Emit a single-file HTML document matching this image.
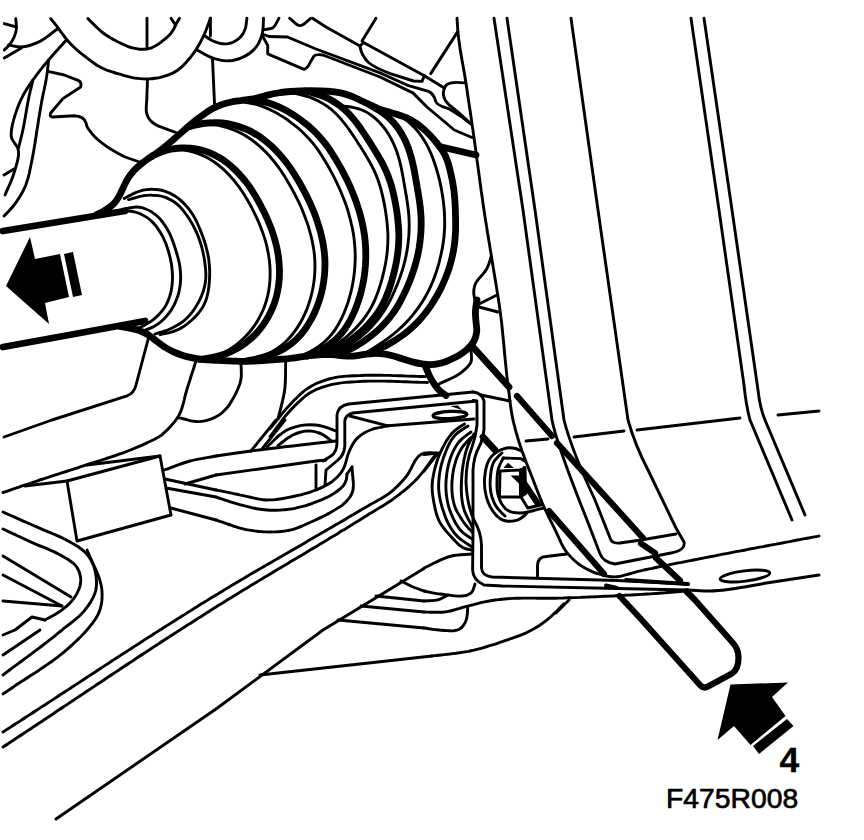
<!DOCTYPE html>
<html><head><meta charset="utf-8"><title>F475R008</title>
<style>
html,body{margin:0;padding:0;background:#fff;}
body{width:864px;height:840px;overflow:hidden;font-family:"Liberation Sans",sans-serif;}
svg{display:block;}
text{font-family:"Liberation Sans",sans-serif;fill:#000;}
</style></head><body>
<svg width="864" height="840" viewBox="0 0 864 840">
<rect width="864" height="840" fill="#fff"/>
<g fill="none" stroke="#000" stroke-linecap="round" stroke-linejoin="round">
<g stroke-width="2.9">
<path d="M4.3,23.6 L14.3,26.4"/>
<path d="M15.7,18.6 C15.9,21.9 16.7,25.4 16.4,28.6 C15.8,34.7 12.6,41.0 8.6,45.7 C7.3,47.2 5.7,48.6 4.3,50.0"/>
<path d="M8.6,45.0 C12.9,45.7 17.2,47.1 21.4,47.0 C27.7,46.9 34.2,44.2 40.0,41.4 C46.2,38.4 51.3,33.3 57.0,29.3"/>
<path d="M4.3,57.9 L21.4,47.9"/>
<path d="M50.7,18.6 C52.0,20.2 53.2,21.8 54.5,23.3 C55.7,24.9 57.0,26.5 58.2,28.1 C59.4,29.7 60.6,31.4 61.8,33.0 C63.0,34.6 64.1,36.3 65.4,37.8 C66.6,39.4 67.9,41.0 69.3,42.5 C70.6,43.9 72.1,45.4 73.5,46.7 C75.0,48.1 76.5,49.5 78.0,50.8 C79.6,52.1 81.1,53.4 82.7,54.6 C84.3,55.9 85.9,57.1 87.5,58.3 C89.1,59.6 90.7,60.8 92.3,62.0 C94.0,63.1 95.6,64.3 97.3,65.4 C99.0,66.4 100.8,67.4 102.6,68.3 C104.4,69.2 106.3,69.9 108.2,70.7 C110.0,71.4 112.0,71.9 113.9,72.5 C115.8,73.1 117.8,73.7 119.7,74.2 C121.6,74.8 123.6,75.3 125.5,75.9 C127.5,76.4 129.4,76.9 131.4,77.3 C133.4,77.8 135.3,78.2 137.3,78.4 C139.3,78.7 141.3,78.8 143.4,78.9 C145.4,79.0 147.4,79.0 149.4,78.9 C151.4,78.8 153.4,78.6 155.4,78.3 C157.4,78.0 159.4,77.6 161.3,77.1 C163.3,76.6 165.2,76.1 167.1,75.4 C169.0,74.7 170.9,74.0 172.7,73.1 C174.5,72.2 176.2,71.1 177.9,70.0 C179.5,68.8 181.0,67.5 182.5,66.1 C184.0,64.8 185.3,63.3 186.7,61.8 C188.0,60.3 189.3,58.7 190.6,57.2 C191.8,55.6 193.1,54.0 194.2,52.3 C195.4,50.7 196.5,49.0 197.5,47.2 C198.6,45.5 199.5,43.8 200.5,42.0 C201.4,40.2 202.4,38.4 203.2,36.6 C204.1,34.8 204.9,32.9 205.7,31.1 C206.4,29.2 207.1,27.3 207.8,25.4 C208.5,23.5 209.2,21.6 209.9,19.7 C210.1,19.2 210.2,18.8 210.4,18.3"/>
<path d="M87.9,18.6 C89.3,20.0 90.8,21.5 92.2,22.9 C93.7,24.4 95.1,25.8 96.6,27.2 C98.1,28.6 99.6,30.0 101.1,31.3 C102.7,32.6 104.3,33.8 106.0,35.0 C107.7,36.1 109.4,37.2 111.2,38.2 C113.0,39.3 114.8,40.2 116.6,41.2 C118.4,42.1 120.2,43.0 122.1,43.9 C123.9,44.7 125.8,45.6 127.7,46.4 C129.5,47.1 131.5,47.8 133.5,48.2 C135.4,48.7 137.5,49.0 139.5,49.2 C141.5,49.3 143.6,49.4 145.6,49.1 C147.6,48.9 149.6,48.5 151.5,47.8 C153.4,47.1 155.1,46.0 156.9,45.0 C158.6,43.9 160.2,42.7 161.9,41.5 C163.5,40.2 165.1,39.0 166.6,37.6 C168.1,36.3 169.7,34.9 170.9,33.3 C172.2,31.8 173.2,30.0 174.2,28.2 C174.9,26.8 175.4,25.4 176.0,24.0"/>
<path d="M171.0,18.3 L175.5,25.0 L179.5,18.3"/>
<path d="M147.0,18.3 L147.0,49.0"/>
<path d="M147.5,80.0 C147.4,82.1 147.3,84.2 147.3,86.3 C147.2,88.3 147.1,90.4 147.0,92.5 C146.9,94.6 146.9,96.7 146.8,98.8 C146.7,100.9 146.5,102.9 146.4,105.0 C146.3,107.1 146.0,109.2 146.3,111.2 C146.6,113.2 147.2,115.3 148.1,117.1 C149.0,118.9 150.4,120.6 151.8,121.9 C153.3,123.3 155.2,124.4 157.0,125.4 C158.8,126.3 160.8,126.9 162.8,127.7 C164.7,128.4 166.7,129.1 168.6,129.9 C170.6,130.6 172.6,131.3 174.5,132.0 C175.0,132.2 175.5,132.3 176.0,132.5"/>
<path d="M66.4,40.0 C65.0,41.5 63.7,43.0 62.3,44.5 C61.0,46.0 59.6,47.5 58.3,49.0 C56.9,50.5 55.6,52.0 54.2,53.5 C52.9,55.0 51.6,56.5 50.3,58.1 C48.9,59.6 47.6,61.1 46.4,62.7 C45.1,64.3 43.8,65.8 42.5,67.4 C41.2,68.9 40.0,70.5 38.7,72.1 C37.5,73.7 36.3,75.3 35.1,77.0 C33.9,78.6 32.7,80.2 31.6,81.9 C30.5,83.6 29.3,85.2 28.2,86.9 C27.1,88.6 26.0,90.3 25.0,92.1 C24.0,93.8 23.0,95.6 22.1,97.4 C21.2,99.1 20.3,101.0 19.5,102.8 C18.7,104.7 18.0,106.6 17.3,108.5 C16.6,110.4 16.0,112.3 15.3,114.2 C14.7,116.1 14.1,118.1 13.6,120.0 C13.1,121.9 12.6,123.9 12.2,125.9 C11.8,127.9 11.4,129.9 11.3,131.9 C11.2,133.8 11.0,135.9 11.5,137.7 C12.0,139.6 13.3,141.2 14.4,142.8 C15.4,144.5 16.9,146.0 17.6,147.7 C18.3,149.5 18.6,151.6 18.6,153.5 C18.7,155.5 18.2,157.5 17.8,159.5 C17.5,161.5 16.8,163.4 16.3,165.3 C15.8,167.3 15.2,169.2 14.6,171.2 C14.0,173.1 13.4,175.0 12.7,176.9 C12.0,178.8 11.2,180.7 10.5,182.5 C9.7,184.4 8.8,186.2 8.0,188.1 C7.2,189.9 6.4,191.7 5.6,193.6 C5.4,194.1 5.2,194.5 5.0,195.0"/>
<path d="M48.6,60.0 C48.4,62.0 48.2,64.0 48.0,66.0 C47.7,68.0 47.5,70.1 47.3,72.1 C47.0,74.1 46.7,76.1 46.4,78.1 C46.1,80.1 45.7,82.1 45.3,84.0 C44.9,86.0 44.5,88.0 44.1,90.0 C43.6,92.0 43.2,93.9 42.8,95.9 C42.4,97.9 42.0,99.9 41.6,101.9 C41.3,103.9 40.9,105.9 40.6,107.9 C40.2,109.9 39.9,111.8 39.6,113.8 C39.3,115.8 38.9,117.8 38.6,119.8 C38.3,121.8 38.0,123.8 37.7,125.8 C37.4,127.8 37.0,129.8 36.7,131.8 C36.4,133.8 36.1,135.8 35.8,137.8 C35.5,139.8 35.2,141.8 34.9,143.8 C34.5,145.8 34.2,147.8 33.9,149.8 C33.6,151.8 33.2,153.8 32.8,155.8 C32.5,157.8 32.0,159.8 31.6,161.8 C31.2,163.7 30.8,165.7 30.4,167.7 C30.0,169.7 29.6,171.7 29.2,173.6 C28.7,175.6 28.2,177.6 27.6,179.5 C27.0,181.4 26.4,183.4 25.7,185.2 C24.9,187.1 24.1,189.0 23.2,190.8 C22.2,192.6 21.3,194.3 20.2,196.1 C19.2,197.8 18.1,199.5 16.9,201.2 C15.8,202.8 14.6,204.5 13.3,206.0 C12.0,207.6 10.7,209.1 9.3,210.6 C8.0,212.1 6.5,213.5 5.1,214.9 C4.7,215.3 4.4,215.6 4.0,216.0"/>
<path d="M32.9,80.0 C31.5,86.2 29.9,92.4 28.6,98.6 C26.4,109.0 25.2,119.6 22.9,130.0 C21.6,136.0 20.0,142.0 18.5,148.0"/>
<path d="M4.0,175.0 L14.0,169.0"/>
<path d="M47.9,71.4 L64.3,75 L78,80.4 Q82,82 80.7,87 L62.9,98.6 L50.7,113 Q49,117 53,117 L74.3,115.7 Q84,116 86,123 Q87,128 89.3,130 C95,139 105,147 125,157 L141,162.5"/>
<path d="M210.4,18.3 L210.4,36.0"/>
<path d="M205.0,36.0 C206.7,37.2 208.4,38.5 210.2,39.5 C212.0,40.6 213.9,41.5 215.9,42.2 C217.8,42.9 219.9,43.5 222.0,43.7 C224.0,43.9 226.1,43.9 228.2,43.6 C230.2,43.2 232.3,42.6 234.1,41.7 C236.0,40.8 237.7,39.6 239.3,38.2 C240.8,36.8 242.1,35.1 243.2,33.4 C244.2,31.6 245.0,29.6 245.6,27.6 C246.1,25.6 246.3,23.5 246.5,21.4 C246.7,20.4 246.8,19.3 246.9,18.3"/>
<path d="M198.0,50.6 C199.8,51.6 201.6,52.6 203.4,53.6 C205.2,54.5 206.9,55.5 208.8,56.4 C210.7,57.2 212.6,57.9 214.5,58.6 C216.4,59.2 218.4,59.7 220.4,60.1 C222.4,60.5 224.4,60.8 226.5,60.9 C228.5,60.9 230.5,60.8 232.5,60.5 C234.5,60.1 236.5,59.6 238.4,59.0 C240.4,58.4 242.3,57.6 244.1,56.6 C245.9,55.7 247.6,54.7 249.3,53.5 C250.9,52.3 252.5,51.0 253.9,49.6 C255.3,48.1 256.6,46.5 257.7,44.8 C258.8,43.1 259.7,41.2 260.4,39.3 C261.2,37.4 261.8,35.5 262.2,33.5 C262.7,31.5 262.9,29.5 263.1,27.5 C263.3,25.4 263.3,23.4 263.4,21.4 C263.4,20.3 263.5,19.3 263.5,18.3"/>
<path d="M212.5,59.0 L214.6,106.0"/>
<path d="M263.5,29.8 C266.7,29.1 270.5,29.3 273.0,27.7 C275.9,25.8 277.0,21.4 279.0,18.3"/>
<path d="M289.6,18.3 C293.1,20.7 296.5,25.5 300.0,25.6 C303.6,25.7 307.3,20.7 311.0,18.3"/>
<path d="M312.5,18.3 L326.0,27.0 L360.0,46.0"/>
<path d="M376.0,18.3 L362.0,41.0"/>
<path d="M360,46 L363.5,42.5 L424.3,75.7 L422,81.4 L413.5,81 L391,73.8 Q375,68 368.5,62.5 Q361,55 360,46 Z"/>
<path d="M424.3,75.7 L444.3,87.9"/>
<path d="M262.5,34 L268.8,36.5 L287.5,37 L316,49 L380,72.9 L408.6,85.7 L428.6,91.4 Q434,94 435.7,101.4 Q437,105.5 448.6,108.6 L460,115.7 L471.4,124.3"/>
<path d="M262.5,36 L267.7,45.4 L267.7,53.8 L304,69.4 Q308,68 310.4,62 L314,56 Q316,54 323,55 L380,77 L412.9,92.9 L427,107 L454.3,130 L472,137.5"/>
<path d="M457.9,31.4 L430.7,73.6"/>
<path d="M444.3,87.9 C445.2,86.8 445.9,85.3 447.0,84.5 C448.2,83.6 449.9,83.3 451.4,82.9 C456.0,81.7 460.9,82.9 465.7,82.9"/>
<path d="M444.3,87.9 C444.0,89.9 443.2,92.0 443.3,94.0 C443.5,96.0 444.1,98.0 445.0,99.8 C445.9,101.6 447.5,103.1 448.9,104.6 C450.4,106.1 452.2,107.2 453.8,108.6 C455.4,109.9 457.0,111.2 458.6,112.6 C460.2,114.0 461.8,115.4 463.3,116.8 C464.9,118.2 466.4,119.7 467.9,121.1 C469.1,122.2 470.2,123.2 471.4,124.3"/>
<path d="M457.0,18.3 C457.1,20.3 457.3,22.3 457.4,24.3 C457.5,26.3 457.7,28.3 457.8,30.3 C458.0,32.3 458.2,34.3 458.4,36.3 C458.6,38.3 458.9,40.3 459.2,42.2 C459.4,44.2 459.7,46.2 460.0,48.2 C460.3,50.2 460.7,52.1 461.0,54.1 C461.3,56.1 461.7,58.1 462.0,60.0 C462.4,62.0 462.7,64.0 463.1,66.0 C463.4,67.9 463.8,69.9 464.1,71.9 C464.5,73.9 464.8,75.8 465.1,77.8 C465.4,79.8 465.7,81.8 466.1,83.7 C466.4,85.7 466.7,87.7 467.0,89.7 C467.3,91.7 467.5,93.7 467.8,95.6 C468.1,97.6 468.4,99.6 468.7,101.6 C469.0,103.6 469.3,105.5 469.6,107.5 C469.9,109.5 470.2,111.5 470.5,113.5 C470.8,115.5 471.1,117.4 471.4,119.4 C471.7,121.4 471.9,123.4 472.2,125.4 C472.5,127.4 472.8,129.3 473.1,131.3 C473.4,133.3 473.7,135.3 473.9,137.3 C474.2,139.3 474.5,141.2 474.8,143.2 C475.0,145.2 475.3,147.2 475.6,149.2 C475.9,151.2 476.1,153.2 476.4,155.1 C476.7,157.1 476.9,159.1 477.2,161.1 C477.5,163.1 477.7,165.1 478.0,167.1 C478.3,169.0 478.5,171.0 478.8,173.0 C479.1,175.0 479.3,177.0 479.6,179.0 C479.9,181.0 480.1,182.9 480.4,184.9 C480.7,186.9 480.9,188.9 481.2,190.9 C481.5,192.9 481.8,194.9 482.1,196.8 C482.4,198.8 482.6,200.8 482.9,202.8 C483.2,204.8 483.5,206.8 483.8,208.7 C484.1,210.7 484.4,212.7 484.7,214.7 C485.0,216.7 485.3,218.6 485.6,220.6 C486.0,222.6 486.3,224.6 486.6,226.6 C486.9,228.5 487.2,230.5 487.5,232.5 C487.9,234.5 488.2,236.4 488.5,238.4 C488.8,240.4 489.1,242.4 489.5,244.4 C489.8,246.3 490.1,248.3 490.4,250.3 C490.8,252.3 491.1,254.2 491.4,256.2 C491.7,258.2 492.0,260.2 492.4,262.2 C492.7,264.1 493.0,266.1 493.3,268.1 C493.6,270.1 494.0,272.0 494.3,274.0 C494.6,276.0 495.0,278.0 495.3,280.0 C495.6,281.9 496.0,283.9 496.3,285.9 C496.6,287.9 496.9,289.8 497.2,291.8 C497.6,293.8 497.9,295.8 498.2,297.8 C498.5,299.7 498.8,301.7 499.1,303.7 C499.4,305.7 499.7,307.7 499.9,309.6 C500.2,311.6 500.5,313.6 500.7,315.6 C501.0,317.6 501.2,319.6 501.5,321.6 C501.7,323.6 501.9,325.6 502.1,327.5 C502.3,329.5 502.5,331.5 502.7,333.5 C502.9,335.5 503.1,337.5 503.3,339.5 C503.5,341.5 503.7,343.5 503.9,345.5 C504.1,347.5 504.3,349.5 504.4,351.5 C504.6,353.5 504.8,355.5 505.0,357.5 C505.2,359.5 505.4,361.5 505.6,363.5 C505.8,365.4 506.0,367.4 506.2,369.4 C506.4,371.4 506.6,373.4 506.8,375.4 C507.1,377.4 507.3,379.4 507.5,381.4 C507.8,383.4 508.0,385.4 508.3,387.3 C508.5,389.3 508.8,391.3 509.0,393.3 C509.3,395.3 509.5,397.3 509.7,399.3 C510.0,401.3 510.2,403.3 510.5,405.2 C510.8,407.2 511.0,409.2 511.4,411.2 C511.7,413.2 512.0,415.1 512.4,417.1 C512.8,419.1 513.2,421.0 513.7,423.0 C514.2,424.9 514.7,426.9 515.2,428.8 C515.7,430.7 516.2,432.7 516.8,434.6 C517.3,436.5 517.9,438.4 518.5,440.4 C519.1,442.3 519.7,444.2 520.3,446.1 C521.0,448.0 521.6,449.9 522.3,451.8 C523.0,453.7 523.7,455.5 524.4,457.4 C525.1,459.3 525.8,461.2 526.5,463.0 C527.2,464.9 528.0,466.8 528.7,468.6 C529.4,470.5 530.2,472.3 530.9,474.2 C531.6,476.1 532.4,477.9 533.1,479.8 C533.8,481.7 534.5,483.6 535.2,485.4 C536.0,487.3 536.7,489.2 537.4,491.0 C538.1,492.9 538.9,494.8 539.6,496.6 C540.4,498.5 541.1,500.3 541.9,502.2 C542.7,504.0 543.5,505.9 544.3,507.7 C545.2,509.5 546.0,511.3 546.9,513.1 C547.7,514.9 548.6,516.7 549.5,518.5 C550.4,520.3 551.3,522.1 552.2,523.9 C553.1,525.7 554.0,527.5 554.9,529.3 C555.8,531.1 556.6,532.9 557.4,534.7 C558.3,536.6 559.0,538.4 559.9,540.2 C560.7,542.0 561.5,543.9 562.5,545.6 C563.4,547.4 564.5,549.1 565.6,550.7 C566.8,552.4 568.1,553.9 569.4,555.4 C570.7,556.9 572.1,558.3 573.6,559.7 C575.1,561.0 576.6,562.4 578.2,563.6 C579.8,564.8 581.4,565.9 583.1,567.0 C584.8,568.0 586.6,569.0 588.4,569.9 C590.2,570.8 592.0,571.6 593.9,572.3 C595.7,573.0 597.6,573.7 599.6,574.2 C601.5,574.8 603.4,575.3 605.4,575.8 C607.3,576.2 609.3,576.5 611.3,576.7 C613.3,576.9 615.3,576.9 617.3,576.7 C619.2,576.5 621.2,576.1 623.2,575.6 C625.1,575.2 627.0,574.5 628.9,574.0 C630.8,573.4 632.8,572.8 634.7,572.3 C636.6,571.8 638.6,571.3 640.5,570.9 C642.5,570.4 644.4,570.0 646.4,569.5 C648.4,569.1 650.3,568.7 652.3,568.3 C654.2,567.8 656.2,567.4 658.2,567.0 C660.1,566.6 662.1,566.2 664.0,565.8 C666.0,565.4 668.0,565.0 669.9,564.6 C671.9,564.2 673.9,563.8 675.8,563.4 C677.8,563.0 679.8,562.7 681.7,562.3 C683.7,561.9 685.7,561.5 687.6,561.1 C689.6,560.7 691.6,560.4 693.5,560.0 C695.5,559.6 697.5,559.2 699.4,558.8 C701.4,558.5 703.4,558.1 705.3,557.7 C707.3,557.3 709.3,556.9 711.2,556.5 C713.2,556.2 715.2,555.8 717.1,555.4 C719.1,555.0 721.1,554.6 723.0,554.2 C725.0,553.8 727.0,553.4 728.9,553.1 C730.9,552.7 732.9,552.3 734.8,551.9 C736.8,551.5 738.8,551.2 740.7,550.8 C742.7,550.4 744.7,550.0 746.6,549.7 C748.6,549.3 750.6,548.9 752.5,548.5 C754.5,548.2 756.5,547.8 758.4,547.4 C760.4,547.0 762.4,546.7 764.4,546.3 C766.3,545.9 768.3,545.6 770.3,545.2 C772.2,544.8 774.2,544.4 776.2,544.1 C778.1,543.7 780.1,543.3 782.1,543.0 C784.0,542.6 786.0,542.2 788.0,541.9 C790.0,541.5 791.9,541.1 793.9,540.7 C795.9,540.4 797.8,540.0 799.8,539.6 C801.8,539.3 803.7,538.9 805.7,538.5 C807.7,538.1 809.6,537.8 811.6,537.4 C813.6,537.0 815.6,536.7 817.5,536.3 C818.0,536.2 818.5,536.1 819.0,536.0"/>
<path d="M494,18.3 L523,210 L552,420 C555,436 565,465 587,520 L600,553.7 Q603,562 615,564 L671,553 Q686,550 684,542 L676,528 L648,470 Q635,445 628,420 L598,210 L571,18.3"/>
<path d="M507,18.3 L535,210 L564,420 C568,436 580,468 595,500 L609.7,537 Q611,544 620,543 L641,540 L676,534"/>
<path d="M691,18.3 L719,210 L744,385 Q746,405 750,420 L792,520"/>
<path d="M704,18.3 L732,210 L758,390 Q760,408 765,420 L805,515"/>
<path d="M778.0,415.0 L819.0,411.0"/>
<path d="M526.0,441.0 L548.0,439.0"/>
<path d="M574.0,437.0 L624.0,431.0"/>
<path d="M637.0,430.0 L740.0,418.0"/>
<path d="M688.0,590.0 C695.3,590.3 702.7,591.0 710.0,591.0 C731.1,590.9 752.0,585.1 773.0,582.0 C788.3,579.7 803.7,577.3 819.0,575.0"/>
<path d="M400.0,115.0 C402.6,117.1 405.3,119.1 407.8,121.3 C410.4,123.5 412.8,125.8 415.1,128.3 C417.4,130.7 419.5,133.4 421.4,136.1 C423.3,138.8 425.1,141.7 426.7,144.6 C428.3,147.6 429.7,150.7 431.0,153.7 C432.3,156.8 433.5,160.0 434.6,163.2 C435.7,166.3 436.7,169.6 437.6,172.8 C438.5,176.1 439.4,179.3 440.1,182.6 C440.8,185.9 441.5,189.2 442.0,192.5 C442.6,195.9 443.1,199.2 443.5,202.5 C443.9,205.9 444.2,209.2 444.4,212.6 C444.6,216.0 444.7,219.3 444.7,222.7 C444.7,226.1 444.6,229.4 444.3,232.8 C444.1,236.1 443.7,239.5 443.2,242.8 C442.7,246.2 442.1,249.5 441.4,252.8 C440.7,256.1 439.9,259.3 439.1,262.6 C438.2,265.8 437.2,269.1 436.2,272.3 C435.1,275.5 433.9,278.6 432.7,281.7 C431.4,284.9 430.0,287.9 428.5,290.9 C427.0,293.9 425.3,296.9 423.6,299.8 C421.9,302.6 420.0,305.5 418.0,308.2 C416.1,310.9 414.0,313.6 411.8,316.1 C409.7,318.7 407.4,321.2 405.0,323.6 C402.7,326.0 400.2,328.3 397.7,330.5 C395.2,332.7 392.5,334.9 389.9,336.9 C387.2,339.0 384.4,340.9 381.7,342.8 C378.9,344.7 376.0,346.5 373.2,348.3 C371.4,349.4 369.7,350.4 368.0,351.5"/>
<path d="M111.4,211.4 C113.4,211.3 115.4,211.2 117.4,211.1 C119.5,211.0 121.5,210.8 123.5,210.8 C125.5,210.8 127.5,210.8 129.5,211.0 C131.5,211.2 133.5,211.6 135.4,212.2 C137.4,212.7 139.3,213.4 141.1,214.2 C142.9,215.1 144.7,216.0 146.4,217.1 C148.1,218.2 149.7,219.4 151.2,220.8 C152.7,222.1 154.0,223.7 155.3,225.2 C156.5,226.8 157.7,228.4 158.8,230.1 C160.0,231.8 161.0,233.5 162.0,235.3 C163.0,237.0 163.8,238.9 164.6,240.7 C165.5,242.5 166.2,244.4 166.8,246.3 C167.5,248.2 168.1,250.2 168.7,252.1 C169.2,254.0 169.7,256.0 170.2,258.0 C170.6,259.9 171.0,261.9 171.4,263.9 C171.7,265.9 172.0,267.9 172.1,269.9 C172.3,271.9 172.4,273.9 172.5,275.9 C172.5,278.0 172.5,280.0 172.3,282.0 C172.2,284.0 172.0,286.0 171.7,288.0 C171.4,290.0 171.0,292.0 170.4,293.9 C169.9,295.9 169.3,297.8 168.5,299.7 C167.8,301.5 166.9,303.4 166.0,305.1 C165.0,306.9 163.9,308.6 162.7,310.2 C161.5,311.8 160.1,313.3 158.7,314.7 C157.3,316.2 155.8,317.5 154.2,318.8 C152.7,320.1 151.0,321.2 149.3,322.4 C147.7,323.5 146.0,324.6 144.2,325.5 C142.4,326.4 140.6,327.3 138.7,327.9 C136.8,328.5 134.7,328.8 132.8,328.9 C130.8,328.9 128.8,328.5 126.8,328.1 C124.8,327.8 122.9,327.2 120.9,326.7 C120.0,326.5 119.0,326.2 118.0,326.0"/>
<path d="M122.0,209.3 C124.0,208.9 126.0,208.5 127.9,208.2 C129.9,207.8 131.9,207.3 133.9,207.2 C135.9,207.0 137.9,207.0 139.9,207.3 C141.9,207.6 143.8,208.2 145.7,209.0 C147.5,209.7 149.3,210.6 151.1,211.6 C152.8,212.7 154.5,213.8 156.0,215.1 C157.5,216.4 158.9,217.8 160.3,219.3 C161.6,220.8 162.8,222.5 164.0,224.1 C165.2,225.8 166.3,227.5 167.3,229.2 C168.3,230.9 169.2,232.7 170.1,234.5 C170.9,236.4 171.7,238.3 172.4,240.1 C173.1,242.0 173.7,243.9 174.4,245.9 C175.0,247.8 175.6,249.7 176.2,251.6 C176.8,253.6 177.4,255.5 177.9,257.4 C178.4,259.4 178.9,261.4 179.3,263.3 C179.7,265.3 180.0,267.3 180.2,269.3 C180.4,271.3 180.6,273.3 180.6,275.3 C180.7,277.4 180.6,279.4 180.5,281.4 C180.4,283.4 180.2,285.4 179.8,287.4 C179.5,289.4 179.1,291.4 178.6,293.3 C178.1,295.3 177.4,297.2 176.7,299.1 C176.0,300.9 175.2,302.8 174.3,304.6 C173.4,306.4 172.4,308.2 171.3,309.9 C170.3,311.5 169.0,313.2 167.8,314.7 C166.5,316.3 165.1,317.8 163.7,319.2 C162.2,320.6 160.7,321.9 159.1,323.1 C157.5,324.3 155.8,325.4 154.0,326.4 C152.3,327.4 150.4,328.1 148.5,328.9 C146.7,329.7 144.7,330.3 142.8,331.0 C141.9,331.3 140.9,331.7 140.0,332.0"/>
<path d="M128.6,199.6 C130.5,199.1 132.5,198.5 134.4,198.0 C136.4,197.4 138.3,196.8 140.3,196.4 C142.3,196.0 144.3,195.6 146.3,195.4 C148.3,195.2 150.3,195.1 152.3,195.2 C154.4,195.2 156.4,195.3 158.4,195.6 C160.4,195.9 162.4,196.3 164.3,197.0 C166.2,197.6 168.0,198.4 169.8,199.4 C171.6,200.3 173.4,201.3 175.0,202.5 C176.6,203.7 178.1,205.0 179.6,206.5 C181.0,207.9 182.3,209.4 183.6,211.0 C184.8,212.6 186.0,214.2 187.2,215.9 C188.3,217.5 189.5,219.2 190.5,221.0 C191.6,222.7 192.6,224.4 193.5,226.2 C194.5,228.0 195.3,229.8 196.2,231.7 C197.0,233.5 197.8,235.4 198.5,237.3 C199.2,239.2 199.9,241.1 200.5,243.0 C201.1,244.9 201.7,246.9 202.2,248.8 C202.7,250.8 203.2,252.8 203.5,254.8 C203.9,256.7 204.3,258.7 204.6,260.7 C204.9,262.7 205.1,264.8 205.3,266.8 C205.6,268.8 205.7,270.8 205.8,272.8 C205.9,274.8 205.9,276.9 205.7,278.9 C205.6,280.9 205.3,282.9 204.9,284.9 C204.5,286.9 204.0,288.8 203.4,290.7 C202.8,292.7 202.0,294.6 201.3,296.4 C200.5,298.3 199.6,300.1 198.7,301.9 C197.7,303.7 196.7,305.5 195.6,307.2 C194.5,308.9 193.4,310.5 192.2,312.1 C190.9,313.7 189.6,315.3 188.2,316.8 C186.8,318.2 185.4,319.6 183.8,320.9 C182.2,322.1 180.5,323.3 178.8,324.3 C177.1,325.4 175.3,326.4 173.5,327.3 C171.7,328.2 169.9,329.0 168.0,329.8 C166.1,330.5 164.2,331.1 162.3,331.8 C160.3,332.4 158.4,332.9 156.4,333.5 C156.0,333.7 155.5,333.8 155.0,334.0"/>
<path d="M124.3,198.6 C126.1,197.6 127.8,196.6 129.6,195.6 C131.4,194.7 133.1,193.6 135.0,192.8 C136.8,192.0 138.7,191.3 140.7,190.8 C142.6,190.2 144.6,189.9 146.6,189.6 C148.6,189.4 150.6,189.2 152.7,189.3 C154.7,189.3 156.7,189.4 158.7,189.8 C160.7,190.1 162.7,190.6 164.6,191.2 C166.5,191.8 168.4,192.6 170.2,193.4 C172.0,194.3 173.8,195.3 175.5,196.4 C177.2,197.5 178.8,198.7 180.3,200.0 C181.9,201.3 183.3,202.7 184.7,204.2 C186.1,205.7 187.4,207.2 188.7,208.8 C189.9,210.4 191.1,212.0 192.2,213.7 C193.3,215.4 194.3,217.2 195.3,219.0 C196.2,220.8 197.1,222.6 197.9,224.5 C198.7,226.3 199.5,228.2 200.3,230.0 C201.0,231.9 201.8,233.8 202.5,235.7 C203.2,237.6 203.8,239.5 204.5,241.4 C205.1,243.4 205.7,245.3 206.2,247.3 C206.7,249.2 207.2,251.2 207.6,253.2 C208.0,255.1 208.4,257.1 208.7,259.1 C208.9,261.2 209.2,263.2 209.3,265.2 C209.5,267.2 209.6,269.2 209.7,271.2 C209.7,273.3 209.7,275.3 209.6,277.3 C209.5,279.3 209.4,281.4 209.2,283.4 C209.0,285.4 208.8,287.4 208.5,289.4 C208.2,291.4 207.8,293.4 207.3,295.4 C206.9,297.3 206.3,299.3 205.6,301.2 C204.8,303.0 204.0,304.9 203.0,306.6 C202.0,308.4 200.8,310.1 199.6,311.7 C198.4,313.3 197.1,314.8 195.7,316.3 C194.3,317.8 192.8,319.2 191.3,320.5 C189.8,321.9 188.2,323.1 186.6,324.3 C185.0,325.5 183.3,326.7 181.5,327.7 C179.8,328.7 178.0,329.6 176.1,330.4 C174.3,331.2 172.3,331.8 170.4,332.3 C168.5,332.9 166.4,333.2 164.5,333.6 C163.0,333.9 161.5,334.2 160.0,334.5"/>
<path d="M491.0,257.0 C490.4,259.0 489.9,261.1 489.2,263.1 C488.5,265.0 487.8,267.0 486.8,268.8 C485.8,270.7 484.4,272.3 483.1,273.9 C481.8,275.5 480.2,277.0 478.9,278.6 C477.6,280.3 476.3,281.9 475.4,283.8 C474.6,285.7 474.1,287.8 473.9,289.8 C473.6,291.8 473.7,294.0 474.1,296.0 C474.4,298.1 475.1,300.1 475.8,302.1 C476.2,303.1 476.6,304.0 477.0,305.0"/>
<path d="M477.0,305.0 L497.0,295.0"/>
<path d="M479.0,307.0 L498.0,312.0"/>
<path d="M471.0,350.0 C471.0,354.0 472.3,358.5 471.0,362.0 C469.6,365.9 465.3,369.1 462.0,372.0 C455.6,377.6 446.7,380.0 439.0,384.0"/>
<path d="M149,336 L136,385 Q134,393.5 127,395.8 L52,420 L4,437"/>
<path d="M241.0,364.0 C241.1,366.0 241.2,368.1 241.3,370.1 C241.3,372.2 241.4,374.2 241.3,376.3 C241.1,378.3 240.8,380.3 240.3,382.3 C239.8,384.2 239.0,386.1 238.3,388.0 C237.5,389.9 236.6,391.8 235.7,393.6 C234.8,395.4 233.8,397.3 232.8,399.0 C231.8,400.8 230.8,402.6 229.6,404.3 C228.5,405.9 227.3,407.6 225.9,409.1 C224.5,410.6 223.0,412.0 221.4,413.3 C219.8,414.5 218.1,415.6 216.3,416.6 C214.5,417.5 212.6,418.4 210.7,419.1 C208.8,419.8 206.8,420.4 204.8,420.8 C202.9,421.2 200.8,421.5 198.8,421.6 C196.8,421.6 194.7,421.4 192.7,421.1 C190.7,420.8 188.7,420.2 186.7,419.7 C184.7,419.3 182.8,418.7 180.8,418.2 C179.8,418.0 178.8,417.7 177.8,417.5"/>
<path d="M285.7,362.0 C285.4,371.0 285.9,380.1 284.8,389.0 C283.6,399.1 280.3,409.0 278.0,419.0"/>
<path d="M270.0,428.7 C271.3,427.1 272.5,425.6 273.8,424.0 C275.1,422.4 276.3,420.8 277.6,419.3 C278.8,417.7 280.1,416.1 281.4,414.5 C282.7,413.0 283.9,411.4 285.3,409.9 C286.6,408.4 288.0,406.9 289.3,405.4 C290.7,403.9 292.1,402.5 293.5,401.0 C294.9,399.6 296.3,398.1 297.8,396.7 C299.2,395.3 300.7,393.9 302.2,392.6 C303.7,391.3 305.3,390.0 307.0,388.9 C308.6,387.7 310.3,386.7 312.1,385.7 C313.9,384.7 315.7,383.8 317.5,383.0 C319.4,382.2 321.3,381.5 323.2,380.8 C325.1,380.2 327.0,379.6 328.9,379.0 C330.9,378.5 332.8,378.0 334.8,377.6 C336.8,377.2 338.8,376.9 340.8,376.6 C342.8,376.4 344.8,376.3 346.8,376.1 C348.8,376.0 350.9,375.9 352.9,375.8 C354.9,375.8 356.9,375.7 358.9,375.6 C360.9,375.5 363.0,375.4 365.0,375.3 C367.0,375.3 369.0,375.2 371.0,375.2 C373.0,375.2 375.1,375.2 377.1,375.2 C379.1,375.2 381.1,375.2 383.1,375.3 C385.1,375.3 387.2,375.4 389.2,375.4 C391.2,375.5 393.2,375.6 395.2,375.6 C397.3,375.7 399.3,375.8 401.3,375.8 C403.3,375.9 405.3,376.0 407.3,376.1 C409.4,376.1 411.4,376.2 413.4,376.3 C415.4,376.4 417.4,376.4 419.4,376.5 C421.5,376.5 423.5,376.6 425.5,376.6"/>
<path d="M270.0,436.6 C271.2,435.0 272.4,433.4 273.7,431.8 C274.9,430.1 276.0,428.5 277.2,426.9 C278.4,425.2 279.6,423.6 280.8,422.0 C282.0,420.3 283.2,418.7 284.5,417.1 C285.8,415.6 287.1,414.0 288.4,412.5 C289.7,411.0 291.1,409.5 292.5,408.1 C294.0,406.6 295.4,405.2 296.8,403.8 C298.3,402.4 299.7,401.0 301.3,399.6 C302.8,398.3 304.3,397.0 305.9,395.7 C307.5,394.5 309.2,393.3 310.9,392.3 C312.6,391.3 314.4,390.3 316.3,389.5 C318.1,388.7 320.0,388.0 321.9,387.3 C323.8,386.7 325.8,386.1 327.7,385.6 C329.7,385.1 331.7,384.6 333.6,384.2 C335.6,383.8 337.6,383.4 339.6,383.1 C341.6,382.8 343.6,382.6 345.6,382.4 C347.6,382.2 349.7,382.1 351.7,382.0 C353.7,381.8 355.7,381.7 357.7,381.6 C359.8,381.5 361.8,381.4 363.8,381.3 C365.8,381.3 367.8,381.2 369.9,381.1 C371.9,381.1 373.9,381.1 375.9,381.1 C378.0,381.1 380.0,381.1 382.0,381.1 C384.0,381.1 386.1,381.2 388.1,381.2 C390.1,381.3 392.1,381.3 394.1,381.4 C396.2,381.5 398.2,381.5 400.2,381.6 C402.2,381.7 404.2,381.8 406.3,381.8 C408.3,381.9 410.3,382.0 412.3,382.1 C414.4,382.1 416.4,382.2 418.4,382.3 C420.4,382.3 422.4,382.4 424.5,382.4 C425.5,382.5 426.5,382.5 427.5,382.5"/>
<path d="M267.0,447.0 C268.5,445.6 270.0,444.2 271.5,442.7 C273.0,441.3 274.4,439.8 275.9,438.4 C277.4,436.9 278.9,435.5 280.6,434.3 C282.2,433.0 283.9,431.8 285.7,430.8 C287.5,429.8 289.4,429.0 291.4,428.2 C293.3,427.5 295.3,426.8 297.3,426.3 C299.3,425.8 301.3,425.4 303.3,425.1 C305.4,424.8 307.5,424.7 309.5,424.7 C311.6,424.7 313.7,424.8 315.7,425.0 C317.8,425.3 319.8,425.6 321.8,426.1 C323.8,426.6 325.8,427.3 327.7,427.9 C329.7,428.6 331.6,429.4 333.5,430.1 C334.0,430.3 334.5,430.5 335.0,430.7"/>
<path d="M278.0,445.5 C279.7,444.2 281.3,442.9 283.0,441.7 C284.7,440.4 286.3,439.1 288.0,437.9 C289.8,436.8 291.6,435.7 293.4,434.8 C295.3,433.9 297.3,433.1 299.3,432.5 C301.3,431.9 303.3,431.4 305.4,431.1 C307.4,430.9 309.5,430.9 311.6,431.1 C313.6,431.3 315.7,431.8 317.7,432.5 C319.6,433.1 321.6,434.0 323.4,435.0 C325.2,436.0 326.9,437.3 328.5,438.6 C329.4,439.2 330.2,439.9 331.0,440.5"/>
<path d="M216.0,456.0 C227.7,454.3 239.3,452.6 251.0,451.0 C279.3,447.2 307.7,444.3 336.0,441.0"/>
<path d="M216.0,475.0 L316.0,461.0 L326.0,460.0"/>
<path d="M251.0,451.0 L276.0,420.0"/>
<path d="M262.0,449.0 L285.0,420.0"/>
<path d="M473,392 L348.7,404 Q338,406 337,415 L337,442.5 Q337,452 331,456 L323,461"/>
<path d="M477,401 L352.7,413 Q345.5,415 344.8,421 L344.8,446.5 Q344,455 338,460 L326,470 L325,485"/>
<path d="M349.7,416.0 L388.0,425.8"/>
<path d="M388.0,425.8 C386.0,426.2 384.1,426.6 382.1,427.0 C380.1,427.4 378.1,427.7 376.2,428.2 C374.2,428.7 372.3,429.3 370.4,430.0 C368.5,430.7 366.7,431.6 364.9,432.6 C363.2,433.6 361.5,434.6 359.9,435.9 C358.4,437.1 356.9,438.5 355.6,440.0 C354.3,441.6 353.3,443.3 352.3,445.0 C351.3,446.8 350.4,448.6 349.6,450.5 C348.8,452.3 348.1,454.2 347.5,456.1 C346.9,458.0 346.5,460.0 345.9,461.9 C345.3,463.9 344.8,465.8 344.0,467.6 C343.1,469.4 342.1,471.2 340.9,472.8 C339.7,474.4 338.4,475.9 337.0,477.3 C335.5,478.7 334.0,480.1 332.4,481.3 C330.8,482.5 329.1,483.6 327.4,484.6 C325.7,485.6 323.8,486.5 322.0,487.4 C320.2,488.2 318.3,489.0 316.5,489.8 C314.6,490.5 312.7,491.3 310.8,491.9 C308.9,492.6 307.0,493.2 305.0,493.7 C303.1,494.3 301.2,494.7 299.2,495.2 C297.2,495.7 295.3,496.1 293.3,496.5 C291.3,496.9 289.3,497.3 287.4,497.7 C285.4,498.1 283.4,498.4 281.4,498.8 C279.4,499.1 277.4,499.4 275.4,499.6 C273.4,499.8 271.4,499.9 269.4,499.9 C267.4,500.0 265.4,499.9 263.4,499.7 C261.4,499.5 259.4,499.2 257.4,498.8 C255.4,498.5 253.5,498.0 251.5,497.5 C249.5,497.0 247.6,496.5 245.6,496.1 C243.7,495.6 241.7,495.2 239.7,494.8 C237.7,494.3 235.8,494.0 233.8,493.6 C231.8,493.2 229.8,492.8 227.9,492.4 C225.9,492.0 223.9,491.6 221.9,491.2 C220.0,490.8 218.0,490.4 216.0,490.0"/>
<path d="M316.0,465.0 L316.0,489.0"/>
<path d="M347.0,474.0 C346.7,476.0 346.8,478.1 346.2,480.0 C345.6,481.8 344.7,483.7 343.6,485.3 C342.4,486.9 340.8,488.2 339.3,489.5 C337.7,490.8 336.1,492.0 334.4,493.1 C332.7,494.2 331.0,495.3 329.2,496.2 C327.4,497.2 325.5,498.0 323.7,498.9 C321.8,499.7 319.9,500.4 318.1,501.2 C316.2,501.9 314.3,502.7 312.4,503.3 C310.4,504.0 308.5,504.7 306.6,505.3 C304.6,505.9 302.7,506.4 300.7,506.9 C298.8,507.4 296.8,507.9 294.8,508.3 C292.8,508.7 290.8,509.0 288.8,509.3 C286.8,509.5 284.8,509.8 282.7,509.9 C280.7,510.1 278.7,510.2 276.6,510.2 C274.6,510.3 272.6,510.3 270.6,510.2 C268.5,510.1 266.5,510.0 264.5,509.8 C262.5,509.6 260.5,509.3 258.5,509.0 C256.5,508.7 254.5,508.2 252.5,507.8 C250.5,507.4 248.5,506.9 246.6,506.4 C244.6,505.9 242.6,505.4 240.7,504.9 C238.7,504.4 236.7,503.8 234.8,503.2 C232.9,502.6 230.9,502.0 229.0,501.4 C227.1,500.7 225.1,500.1 223.2,499.4 C221.3,498.8 219.4,498.1 217.4,497.5 C217.0,497.3 216.5,497.2 216.0,497.0"/>
<path d="M352.0,467.0 C352.1,469.0 352.2,471.0 352.4,473.1 C352.6,475.1 352.9,477.1 353.0,479.1 C353.2,481.1 353.5,483.1 353.4,485.1 C353.4,487.1 353.3,489.2 352.7,491.1 C352.2,493.0 351.3,494.9 350.3,496.6 C349.3,498.3 347.9,499.8 346.5,501.3 C345.1,502.7 343.6,504.0 342.0,505.3 C340.4,506.5 338.6,507.5 336.9,508.6 C335.2,509.7 333.5,510.7 331.7,511.7 C330.0,512.8 328.2,513.7 326.4,514.7 C324.6,515.6 322.8,516.5 321.0,517.4 C319.1,518.3 317.3,519.1 315.5,520.0 C313.6,520.8 311.8,521.7 309.9,522.5 C308.1,523.3 306.2,524.2 304.4,525.0 C302.5,525.8 300.7,526.7 298.8,527.4 C296.9,528.1 295.0,528.8 293.1,529.4 C291.1,529.9 289.1,530.3 287.2,530.7 C285.2,531.1 283.2,531.3 281.1,531.5 C279.1,531.7 277.1,531.8 275.1,531.9 C273.1,532.0 271.0,532.0 269.0,532.0 C267.0,531.9 265.0,531.9 262.9,531.8 C260.9,531.6 258.9,531.5 256.9,531.2 C254.9,531.0 252.9,530.8 250.9,530.4 C248.9,530.1 246.9,529.8 244.9,529.3 C242.9,528.9 241.0,528.4 239.0,527.8 C237.1,527.2 235.1,526.6 233.2,526.0 C231.3,525.3 229.4,524.6 227.5,524.0 C225.6,523.3 223.7,522.6 221.8,521.9 C219.8,521.3 217.9,520.6 216.0,520.0"/>
<path d="M347.0,474.0 L352.0,467.0"/>
<path d="M436.0,453.0 C434.0,452.9 432.0,452.7 430.0,452.7 C428.0,452.7 425.9,452.6 424.1,453.1 C422.3,453.6 420.4,454.6 419.0,455.8 C417.5,457.0 416.4,458.8 415.3,460.4 C414.2,462.1 413.4,464.0 412.5,465.7 C411.5,467.5 410.7,469.4 409.7,471.1 C408.7,472.8 407.7,474.6 406.5,476.2 C405.3,477.8 404.0,479.3 402.6,480.8 C401.3,482.2 399.9,483.7 398.5,485.1 C397.1,486.5 395.6,487.9 394.1,489.3 C392.6,490.6 391.1,491.9 389.5,493.1 C387.9,494.3 386.2,495.4 384.5,496.5 C382.9,497.6 381.1,498.6 379.4,499.6 C377.6,500.6 375.8,501.5 374.1,502.5 C372.3,503.4 370.6,504.4 368.8,505.4 C367.1,506.4 365.4,507.4 363.6,508.4 C361.9,509.4 360.2,510.5 358.4,511.5 C356.7,512.5 355.0,513.5 353.3,514.6 C351.5,515.6 349.8,516.6 348.1,517.6 C346.4,518.6 344.6,519.7 342.9,520.7 C341.2,521.7 339.4,522.7 337.7,523.7 C336.0,524.7 334.2,525.7 332.5,526.8 C330.8,527.8 329.0,528.8 327.3,529.8 C325.6,530.8 323.8,531.8 322.1,532.8 C320.4,533.8 318.6,534.8 316.9,535.8 C315.1,536.8 313.4,537.8 311.7,538.8 C309.9,539.8 308.2,540.8 306.5,541.9 C304.7,542.9 303.0,543.9 301.3,544.9 C299.5,545.9 297.8,546.9 296.0,547.9 C294.3,548.9 292.6,549.9 290.8,550.9 C289.1,551.9 287.4,552.9 285.6,553.9 C283.9,554.9 282.1,555.9 280.4,556.9 C278.7,557.9 276.9,558.9 275.2,559.9 C273.5,561.0 271.7,562.0 270.0,563.0 C268.3,564.0 266.5,565.0 264.8,566.0 C263.1,567.0 261.3,568.0 259.6,569.0 C257.9,570.0 256.1,571.1 254.4,572.1 C252.7,573.1 250.9,574.1 249.2,575.1 C247.5,576.1 245.8,577.2 244.0,578.2 C242.3,579.2 240.6,580.2 238.8,581.3 C237.1,582.3 235.4,583.3 233.7,584.3 C232.0,585.4 230.2,586.4 228.5,587.4 C226.8,588.5 225.1,589.5 223.4,590.5 C221.6,591.6 219.9,592.6 218.2,593.7 C216.5,594.7 214.8,595.7 213.1,596.8 C211.4,597.8 209.6,598.9 207.9,599.9 C206.2,601.0 204.5,602.0 202.8,603.1 C201.1,604.1 199.4,605.2 197.7,606.3 C196.0,607.3 194.3,608.4 192.6,609.4 C190.9,610.5 189.2,611.6 187.5,612.6 C185.8,613.7 184.1,614.8 182.4,615.8 C180.7,616.9 179.0,618.0 177.3,619.0 C175.6,620.1 173.9,621.2 172.2,622.2 C170.5,623.3 168.8,624.4 167.1,625.5 C165.4,626.5 163.7,627.6 162.0,628.7 C160.3,629.8 158.6,630.8 156.9,631.9 C155.2,633.0 153.6,634.1 151.9,635.2 C150.2,636.3 148.5,637.3 146.8,638.4 C145.1,639.5 143.4,640.6 141.7,641.7 C140.1,642.8 138.4,643.9 136.7,644.9 C135.0,646.0 133.3,647.1 131.6,648.2 C129.9,649.3 128.3,650.4 126.6,651.5 C124.9,652.6 123.2,653.7 121.5,654.8 C119.8,655.9 118.2,656.9 116.5,658.0 C114.8,659.1 113.1,660.2 111.4,661.3 C109.7,662.4 108.1,663.5 106.4,664.6 C104.7,665.7 103.0,666.8 101.3,667.9 C99.7,669.0 98.0,670.1 96.3,671.2 C94.6,672.3 92.9,673.4 91.3,674.5 C89.6,675.6 87.9,676.7 86.2,677.8 C84.5,678.9 82.9,680.0 81.2,681.1 C79.5,682.2 77.8,683.3 76.2,684.4 C74.5,685.5 72.8,686.6 71.1,687.7 C69.4,688.8 67.8,689.9 66.1,691.0 C64.4,692.1 62.7,693.2 61.0,694.3 C59.4,695.4 57.7,696.5 56.0,697.6 C54.3,698.7 52.6,699.8 51.0,700.9 C49.3,702.0 47.6,703.1 45.9,704.2 C44.2,705.2 42.6,706.3 40.9,707.4 C39.2,708.5 37.5,709.6 35.8,710.7 C34.2,711.8 32.5,712.9 30.8,714.0 C29.1,715.1 27.4,716.2 25.7,717.3 C24.1,718.4 22.4,719.5 20.7,720.6 C19.0,721.7 17.3,722.8 15.6,723.8 C14.0,724.9 12.3,726.0 10.6,727.1 C8.9,728.2 7.2,729.3 5.5,730.4 C4.7,730.9 3.8,731.5 3.0,732.0"/>
<path d="M436.0,454.0 C434.8,455.6 433.6,457.2 432.4,458.9 C431.2,460.5 430.1,462.1 428.9,463.8 C427.7,465.4 426.6,467.0 425.4,468.6 C424.2,470.3 423.0,471.9 421.7,473.4 C420.4,475.0 419.1,476.5 417.8,478.0 C416.4,479.5 415.0,480.9 413.6,482.3 C412.1,483.7 410.6,485.1 409.1,486.4 C407.6,487.8 406.1,489.1 404.5,490.3 C403.0,491.6 401.4,492.8 399.8,494.1 C398.2,495.3 396.6,496.5 395.0,497.7 C393.4,498.9 391.7,500.1 390.1,501.2 C388.4,502.3 386.7,503.4 385.0,504.5 C383.3,505.5 381.6,506.6 379.8,507.6 C378.1,508.7 376.4,509.7 374.7,510.7 C373.0,511.8 371.2,512.8 369.5,513.8 C367.8,514.9 366.1,516.0 364.4,517.0 C362.7,518.1 361.0,519.2 359.3,520.2 C357.6,521.3 355.8,522.3 354.1,523.4 C352.4,524.5 350.7,525.5 349.0,526.6 C347.3,527.6 345.6,528.7 343.9,529.7 C342.1,530.8 340.4,531.8 338.7,532.9 C337.0,533.9 335.3,535.0 333.6,536.0 C331.8,537.1 330.1,538.1 328.4,539.1 C326.7,540.2 324.9,541.2 323.2,542.3 C321.5,543.3 319.8,544.3 318.1,545.4 C316.3,546.4 314.6,547.4 312.9,548.5 C311.2,549.5 309.4,550.5 307.7,551.6 C306.0,552.6 304.2,553.6 302.5,554.7 C300.8,555.7 299.1,556.7 297.3,557.8 C295.6,558.8 293.9,559.8 292.2,560.8 C290.4,561.9 288.7,562.9 287.0,563.9 C285.2,565.0 283.5,566.0 281.8,567.0 C280.1,568.1 278.3,569.1 276.6,570.1 C274.9,571.1 273.2,572.2 271.4,573.2 C269.7,574.2 268.0,575.3 266.3,576.3 C264.5,577.3 262.8,578.4 261.1,579.4 C259.4,580.5 257.6,581.5 255.9,582.5 C254.2,583.6 252.5,584.6 250.7,585.6 C249.0,586.7 247.3,587.7 245.6,588.8 C243.9,589.8 242.1,590.9 240.4,591.9 C238.7,593.0 237.0,594.0 235.3,595.1 C233.6,596.1 231.8,597.2 230.1,598.2 C228.4,599.3 226.7,600.3 225.0,601.4 C223.3,602.4 221.6,603.5 219.9,604.6 C218.2,605.6 216.5,606.7 214.8,607.8 C213.1,608.8 211.4,609.9 209.7,611.0 C208.0,612.1 206.3,613.1 204.6,614.2 C202.9,615.3 201.2,616.4 199.5,617.4 C197.8,618.5 196.1,619.6 194.4,620.7 C192.7,621.8 191.0,622.9 189.3,623.9 C187.6,625.0 185.9,626.1 184.2,627.2 C182.5,628.3 180.8,629.4 179.1,630.5 C177.4,631.6 175.8,632.6 174.1,633.7 C172.4,634.8 170.7,635.9 169.0,637.0 C167.3,638.1 165.6,639.2 163.9,640.3 C162.3,641.4 160.6,642.5 158.9,643.6 C157.2,644.7 155.5,645.8 153.8,646.9 C152.2,648.0 150.5,649.1 148.8,650.2 C147.1,651.3 145.4,652.4 143.7,653.5 C142.1,654.6 140.4,655.7 138.7,656.8 C137.0,657.9 135.3,659.1 133.7,660.2 C132.0,661.3 130.3,662.4 128.6,663.5 C127.0,664.6 125.3,665.7 123.6,666.8 C121.9,667.9 120.2,669.0 118.6,670.2 C116.9,671.3 115.2,672.4 113.5,673.5 C111.9,674.6 110.2,675.7 108.5,676.8 C106.8,677.9 105.2,679.1 103.5,680.2 C101.8,681.3 100.1,682.4 98.5,683.5 C96.8,684.6 95.1,685.8 93.5,686.9 C91.8,688.0 90.1,689.1 88.4,690.2 C86.8,691.3 85.1,692.4 83.4,693.6 C81.7,694.7 80.1,695.8 78.4,696.9 C76.7,698.0 75.0,699.1 73.4,700.3 C71.7,701.4 70.0,702.5 68.4,703.6 C66.7,704.7 65.0,705.8 63.3,707.0 C61.7,708.1 60.0,709.2 58.3,710.3 C56.6,711.4 55.0,712.5 53.3,713.7 C51.6,714.8 49.9,715.9 48.3,717.0 C46.6,718.1 44.9,719.2 43.3,720.4 C41.6,721.5 39.9,722.6 38.2,723.7 C36.6,724.8 34.9,725.9 33.2,727.0 C31.5,728.1 29.9,729.3 28.2,730.4 C26.5,731.5 24.8,732.6 23.1,733.7 C21.5,734.8 19.8,735.9 18.1,737.0 C16.4,738.1 14.8,739.3 13.1,740.4 C11.4,741.5 9.7,742.6 8.0,743.7 C6.4,744.8 4.7,745.9 3.0,747.0"/>
<path d="M424.0,568.5 L323.0,630.0 L216.0,709.0 L56.0,819.0"/>
<path d="M401.0,581.0 C405.0,583.0 408.9,585.3 413.0,587.0 C416.6,588.5 420.3,589.7 424.0,591.0"/>
<path d="M376.0,596.0 L424.0,601.0"/>
<path d="M361.0,606.0 L424.0,612.0"/>
<path d="M338.0,620.0 L424.0,628.0"/>
<path d="M260.0,675.0 L432.0,656.0"/>
<path d="M432.0,656.0 C434.0,655.8 436.0,655.5 438.0,655.3 C440.0,655.1 442.0,654.8 444.1,654.6 C446.1,654.4 448.1,654.2 450.1,654.0 C452.1,653.7 454.1,653.5 456.1,653.3 C458.1,653.0 460.1,652.7 462.1,652.4 C464.1,652.1 466.1,651.7 468.1,651.4 C470.1,651.0 472.0,650.5 474.0,650.1 C476.0,649.6 477.9,649.1 479.9,648.6 C481.8,648.1 483.8,647.5 485.7,647.0 C487.7,646.4 489.6,645.8 491.5,645.2 C493.5,644.6 495.4,644.0 497.3,643.3 C499.2,642.7 501.1,642.1 503.0,641.4 C504.9,640.7 506.9,640.1 508.8,639.4 C510.7,638.7 512.6,638.1 514.5,637.4 C516.4,636.7 518.3,636.0 520.2,635.3 C522.1,634.6 523.9,633.8 525.8,633.0 C527.6,632.2 529.5,631.3 531.2,630.3 C533.0,629.4 534.8,628.4 536.5,627.3 C538.2,626.3 539.9,625.1 541.5,624.0 C543.2,622.8 544.8,621.6 546.4,620.4 C548.0,619.1 549.6,617.8 551.1,616.5 C552.6,615.1 554.0,613.7 555.4,612.3 C556.9,610.9 558.3,609.4 559.7,608.0 C561.1,606.6 562.6,605.1 564.0,603.7"/>
<path d="M3.0,492.5 C4.9,491.9 6.8,491.2 8.7,490.6 C10.6,489.9 12.5,489.3 14.5,488.6 C16.4,488.0 18.3,487.3 20.2,486.7 C22.1,486.0 24.0,485.4 25.9,484.7 C27.8,484.1 29.7,483.4 31.6,482.8 C33.5,482.2 35.5,481.5 37.4,480.9 C39.3,480.2 41.2,479.6 43.1,479.0 C45.0,478.3 46.9,477.7 48.9,477.1 C50.8,476.5 52.7,475.8 54.6,475.2 C56.5,474.6 58.4,474.0 60.4,473.4 C62.3,472.8 64.2,472.1 66.1,471.5 C68.0,470.9 69.9,470.3 71.9,469.7 C73.8,469.0 75.7,468.4 77.6,467.8 C79.5,467.1 81.4,466.5 83.4,465.9 C85.3,465.3 87.2,464.6 89.1,464.0 C91.0,463.4 92.9,462.8 94.9,462.2 C96.8,461.6 98.7,461.0 100.6,460.4 C102.5,459.7 104.5,459.1 106.4,458.5 C108.3,457.9 110.2,457.3 112.1,456.6 C114.0,456.0 116.0,455.4 117.9,454.7 C119.8,454.0 121.7,453.4 123.6,452.7 C125.4,452.0 127.3,451.2 129.2,450.5 C131.1,449.8 132.9,449.0 134.8,448.2 C136.7,447.5 138.5,446.7 140.4,445.9 C142.2,445.1 144.1,444.3 145.9,443.4 C147.7,442.6 149.6,441.7 151.4,440.8 C153.2,439.9 155.0,439.1 156.7,438.0 C158.5,437.0 160.2,436.0 161.8,434.8 C163.4,433.5 164.9,432.2 166.3,430.8 C167.8,429.4 169.1,427.9 170.5,426.4 C171.9,424.9 173.2,423.4 174.5,421.9 C175.7,420.3 176.9,418.7 178.0,417.0 C179.0,415.3 179.9,413.4 180.7,411.6 C181.5,409.7 182.1,407.8 182.6,405.9 C183.2,404.0 183.7,402.0 184.2,400.0 C184.6,398.1 185.1,396.1 185.6,394.2 C186.1,392.2 186.7,390.3 187.2,388.3 C187.8,386.4 188.5,384.5 189.1,382.6 C189.7,380.7 190.3,378.7 190.9,376.8 C191.5,374.9 192.1,373.0 192.8,371.1 C193.4,369.2 194.0,367.2 194.6,365.3 C195.1,363.9 195.5,362.4 196.0,361.0"/>
<path d="M67,481 L160,456 L171,515 L77,541 Z"/>
<path d="M25.0,486.0 L67.0,481.0"/>
<path d="M87.0,465.0 L160.0,456.0"/>
<path d="M164.0,470.0 C172.7,467.0 181.2,463.4 190.0,461.0 C198.5,458.7 207.3,457.7 216.0,456.0"/>
<path d="M165.0,479.0 L216.0,490.0"/>
<path d="M185.0,484.0 L216.0,475.0"/>
<path d="M166.0,488.0 L216.0,497.0"/>
<path d="M171.0,508.0 L216.0,520.0"/>
<path d="M3.0,512.0 C4.8,512.8 6.7,513.6 8.5,514.5 C10.4,515.3 12.2,516.1 14.0,516.9 C15.9,517.7 17.7,518.5 19.6,519.4 C21.4,520.2 23.2,521.0 25.1,521.8 C26.9,522.6 28.8,523.5 30.6,524.3 C32.4,525.1 34.3,525.9 36.1,526.7 C38.0,527.5 39.8,528.3 41.7,529.1 C43.5,529.9 45.4,530.7 47.2,531.4 C49.1,532.2 51.0,532.9 52.8,533.7 C54.7,534.5 56.5,535.3 58.4,536.1 C60.2,537.0 62.0,537.8 63.8,538.7 C65.6,539.6 67.4,540.6 69.2,541.5 C70.9,542.5 72.7,543.5 74.4,544.5 C76.1,545.6 77.9,546.6 79.5,547.7 C81.2,548.9 82.8,550.1 84.2,551.5 C85.7,552.8 87.0,554.4 88.2,556.0 C89.4,557.6 90.5,559.3 91.5,561.0 C92.5,562.8 93.4,564.6 94.3,566.4 C95.2,568.2 96.0,570.0 96.8,571.9 C97.6,573.7 98.3,575.6 99.0,577.5 C99.6,579.4 100.2,581.3 100.7,583.3 C101.2,585.2 101.6,587.2 101.8,589.2 C102.0,591.2 102.1,593.2 102.1,595.2 C102.1,597.2 102.0,599.2 101.8,601.2 C101.5,603.2 101.2,605.2 100.7,607.2 C100.2,609.1 99.6,611.0 98.8,612.8 C98.0,614.7 97.0,616.4 95.9,618.2 C94.9,619.9 93.7,621.5 92.5,623.1 C91.3,624.7 90.0,626.3 88.7,627.9 C87.5,629.4 86.2,631.0 84.8,632.4 C83.5,633.9 82.1,635.4 80.7,636.8 C79.2,638.2 77.8,639.6 76.3,641.0 C74.8,642.4 73.4,643.7 71.9,645.1 C70.4,646.5 68.9,647.8 67.4,649.1 C65.8,650.4 64.3,651.7 62.7,653.0 C61.2,654.3 59.6,655.5 58.0,656.8 C56.4,658.0 54.8,659.2 53.2,660.4 C51.5,661.6 49.9,662.7 48.3,663.9 C46.6,665.0 44.9,666.2 43.3,667.3 C41.6,668.4 39.9,669.6 38.3,670.7 C36.6,671.8 34.9,672.9 33.2,674.0 C31.5,675.1 29.8,676.2 28.1,677.3 C26.5,678.4 24.8,679.5 23.1,680.6 C21.4,681.6 19.7,682.7 18.0,683.8 C16.3,684.9 14.6,686.1 13.0,687.2 C11.3,688.3 9.6,689.4 8.0,690.6 C6.3,691.7 4.7,692.9 3.0,694.0"/>
<path d="M87.0,550.0 C87.8,551.8 88.6,553.7 89.4,555.5 C90.3,557.4 91.1,559.2 91.9,561.1 C92.7,562.9 93.4,564.8 94.0,566.7 C94.6,568.7 95.1,570.6 95.5,572.6 C95.8,574.6 96.1,576.6 96.3,578.6 C96.5,580.6 96.6,582.6 96.5,584.6 C96.4,586.6 96.1,588.6 95.7,590.6 C95.2,592.5 94.5,594.4 93.7,596.3 C92.9,598.1 91.9,599.9 90.9,601.6 C89.8,603.3 88.7,605.0 87.5,606.6 C86.3,608.2 85.1,609.9 83.8,611.4 C82.5,612.9 81.1,614.4 79.6,615.8 C78.2,617.2 76.6,618.5 75.1,619.7 C73.5,621.0 71.9,622.3 70.3,623.5 C68.7,624.7 67.1,625.9 65.5,627.2 C63.9,628.4 62.4,629.7 60.8,631.0 C59.2,632.3 57.7,633.6 56.1,634.8 C54.5,636.1 53.0,637.4 51.4,638.6 C49.8,639.9 48.2,641.1 46.6,642.3 C45.0,643.6 43.4,644.8 41.8,646.0 C40.2,647.2 38.6,648.5 37.0,649.7 C35.4,650.9 33.8,652.1 32.1,653.3 C30.5,654.5 28.9,655.7 27.3,656.9 C25.6,658.1 24.0,659.3 22.4,660.5 C20.8,661.7 19.2,662.9 17.5,664.1 C15.9,665.3 14.3,666.5 12.7,667.7 C11.1,668.9 9.4,670.1 7.8,671.3 C6.2,672.6 4.6,673.8 3.0,675.0"/>
<path d="M3.0,529.0 C4.8,529.9 6.7,530.7 8.5,531.6 C10.4,532.4 12.2,533.3 14.0,534.2 C15.9,535.0 17.7,535.9 19.6,536.7 C21.4,537.6 23.3,538.5 25.1,539.3 C26.9,540.2 28.8,541.0 30.6,541.9 C32.5,542.7 34.3,543.5 36.2,544.3 C38.1,545.1 40.0,545.9 41.9,546.6 C43.7,547.4 45.6,548.1 47.5,548.9 C49.4,549.7 51.3,550.5 53.1,551.3 C54.9,552.2 56.8,553.1 58.5,554.1 C60.3,555.0 62.1,556.1 63.8,557.1 C65.6,558.1 67.4,559.1 69.1,560.2 C70.8,561.3 72.5,562.4 73.9,563.8 C75.4,565.2 76.7,566.8 77.6,568.5 C78.6,570.3 79.4,572.2 79.9,574.1 C80.4,576.1 80.8,578.1 80.8,580.1 C80.8,582.1 80.4,584.1 80.0,586.1 C79.5,588.0 78.7,589.9 77.8,591.7 C77.0,593.6 76.0,595.4 74.8,597.0 C73.7,598.7 72.5,600.3 71.1,601.8 C69.8,603.3 68.3,604.7 66.7,606.1 C65.2,607.4 63.6,608.7 62.0,609.9 C60.4,611.1 58.7,612.2 57.0,613.3 C55.3,614.4 53.5,615.3 51.7,616.3 C49.9,617.3 48.1,618.3 46.3,619.3 C45.9,619.5 45.4,619.8 45.0,620.0"/>
<path d="M45,620 L32,617 L15,630 L3,635"/>
<path d="M3.0,556.0 L71.0,597.0"/>
<path d="M3.0,575.0 L62.0,606.0"/>
<path d="M3.0,601.0 L62.0,606.0"/>
<path d="M40.0,630.0 L3.0,655.0"/>
<path d="M473,392 Q482,393 484,401 L484,429 Q483,440 479,447 Q474,456 473,470 L473,532 L472.6,570 Q473,580 484,585 L502,586 L617,588.5 L688,590"/>
<path d="M473,400.5 Q477,400 477,404 L477,425 Q476,436 472,447 Q466,462 466,482 Q467,505 474,520 Q481,532 481.5,545 L481.5,568 Q482,576 492,577 L617,580.5 L688,584"/>
<path d="M388.0,425.8 L474.0,419.0"/>
<path d="M481.0,395.0 L510.0,401.0"/>
<path d="M464.5,424.0 C462.8,425.1 461.0,426.1 459.3,427.2 C457.6,428.4 455.9,429.5 454.4,430.9 C452.9,432.2 451.5,433.7 450.3,435.3 C449.0,436.9 447.9,438.6 446.8,440.3 C445.7,442.1 444.7,443.8 443.8,445.6 C442.8,447.4 441.9,449.3 441.0,451.1 C440.2,452.9 439.4,454.8 438.6,456.7 C437.9,458.6 437.2,460.6 436.6,462.5 C436.0,464.4 435.4,466.4 434.9,468.4 C434.4,470.4 434.0,472.3 433.6,474.3 C433.2,476.3 432.8,478.3 432.5,480.4 C432.3,482.4 432.1,484.4 432.1,486.5 C432.1,488.5 432.2,490.5 432.4,492.6 C432.6,494.6 432.9,496.6 433.2,498.6 C433.5,500.6 433.9,502.6 434.3,504.6 C434.7,506.6 435.1,508.6 435.6,510.6 C436.1,512.6 436.6,514.6 437.3,516.5 C438.0,518.4 438.8,520.3 439.7,522.1 C440.7,523.9 441.8,525.6 443.0,527.2 C444.2,528.8 445.5,530.4 446.9,531.9 C448.2,533.5 449.6,535.0 451.0,536.5 C452.3,538.0 453.7,539.5 455.1,541.0 C456.5,542.4 457.8,544.0 459.4,545.2 C461.0,546.5 462.8,547.6 464.6,548.3 C466.5,549.1 468.5,549.4 470.5,549.8 C471.0,549.8 471.5,549.9 472.0,550.0"/>
<path d="M468.0,426.0 C466.3,427.1 464.5,428.1 462.8,429.2 C461.1,430.4 459.4,431.4 457.8,432.7 C456.3,434.0 454.8,435.4 453.6,437.0 C452.3,438.5 451.2,440.3 450.2,442.1 C449.2,443.8 448.4,445.7 447.5,447.5 C446.7,449.4 445.9,451.2 445.2,453.1 C444.4,455.0 443.7,456.9 443.1,458.9 C442.5,460.8 441.9,462.8 441.4,464.7 C440.9,466.7 440.5,468.7 440.1,470.7 C439.7,472.7 439.4,474.7 439.2,476.7 C439.0,478.7 438.8,480.8 438.7,482.8 C438.6,484.8 438.6,486.9 438.7,488.9 C438.8,490.9 439.0,492.9 439.3,494.9 C439.6,496.9 440.0,498.9 440.4,500.9 C440.9,502.9 441.5,504.9 442.0,506.8 C442.6,508.8 443.2,510.7 443.9,512.6 C444.5,514.5 445.2,516.5 445.9,518.4 C446.7,520.2 447.6,522.1 448.5,523.9 C449.4,525.7 450.4,527.5 451.6,529.1 C452.7,530.8 453.9,532.5 455.2,534.0 C456.5,535.6 458.0,537.0 459.5,538.3 C461.0,539.6 462.7,540.8 464.4,541.9 C466.1,543.1 467.8,544.2 469.5,545.3 C470.3,545.9 471.2,546.4 472.0,547.0"/>
<path d="M471.0,432.0 C469.4,433.2 467.7,434.3 466.1,435.6 C464.5,436.8 462.8,438.0 461.4,439.4 C460.0,440.8 458.6,442.3 457.4,444.0 C456.3,445.6 455.3,447.4 454.3,449.1 C453.3,450.9 452.5,452.8 451.7,454.6 C451.0,456.5 450.3,458.4 449.7,460.3 C449.1,462.3 448.6,464.2 448.1,466.2 C447.7,468.2 447.3,470.2 447.0,472.2 C446.7,474.2 446.5,476.2 446.3,478.2 C446.1,480.2 446.0,482.2 445.9,484.3 C445.9,486.3 445.9,488.3 446.0,490.3 C446.1,492.3 446.3,494.4 446.6,496.4 C446.9,498.4 447.2,500.4 447.6,502.3 C448.0,504.3 448.5,506.3 449.1,508.2 C449.8,510.1 450.5,512.0 451.2,513.9 C452.0,515.8 452.8,517.6 453.7,519.4 C454.6,521.3 455.5,523.1 456.6,524.8 C457.7,526.5 458.8,528.2 460.1,529.7 C461.4,531.2 462.9,532.6 464.5,533.8 C466.1,535.1 467.8,536.2 469.5,537.3 C470.3,537.9 471.2,538.4 472.0,539.0"/>
<path d="M471.0,437.5 C469.6,439.0 468.1,440.4 466.7,441.9 C465.3,443.4 463.9,445.0 462.7,446.6 C461.6,448.3 460.5,450.1 459.6,451.9 C458.6,453.7 457.8,455.6 457.0,457.5 C456.3,459.4 455.6,461.3 455.1,463.3 C454.5,465.3 454.0,467.3 453.6,469.3 C453.2,471.3 452.9,473.4 452.6,475.4 C452.4,477.4 452.2,479.5 452.0,481.5 C451.9,483.6 451.8,485.6 451.9,487.7 C451.9,489.7 452.0,491.8 452.2,493.8 C452.4,495.9 452.7,497.9 453.1,499.9 C453.5,501.9 453.9,504.0 454.6,505.9 C455.2,507.8 456.0,509.7 457.0,511.5 C457.9,513.4 459.0,515.1 460.1,516.8 C461.2,518.6 462.3,520.3 463.5,522.0 C464.7,523.6 465.9,525.3 467.3,526.8 C468.6,528.4 470.1,529.9 471.5,531.3 C471.9,531.7 472.2,532.0 472.6,532.4"/>
<path d="M474.0,434.0 C473.0,435.8 472.0,437.6 471.0,439.4 C470.1,441.2 469.1,443.0 468.3,444.8 C467.5,446.7 466.8,448.6 466.2,450.6 C465.6,452.5 465.1,454.5 464.7,456.5 C464.2,458.5 463.8,460.5 463.5,462.5 C463.1,464.5 462.8,466.5 462.5,468.6 C462.3,470.6 462.1,472.6 461.9,474.6 C461.7,476.7 461.6,478.7 461.5,480.8 C461.4,482.8 461.4,484.8 461.3,486.9 C461.3,488.9 461.3,491.0 461.4,493.0 C461.5,495.0 461.7,497.1 461.9,499.1 C462.2,501.1 462.4,503.2 462.9,505.1 C463.3,507.1 463.8,509.1 464.5,511.0 C465.2,512.9 466.1,514.8 467.0,516.6 C467.9,518.4 468.8,520.2 469.8,522.1 C470.7,523.9 471.7,525.7 472.6,527.5"/>
<path d="M521.0,451.0 C519.2,450.2 517.4,449.0 515.5,448.5 C513.6,448.0 511.5,447.7 509.6,447.7 C507.6,447.8 505.5,448.2 503.6,448.8 C501.7,449.4 499.8,450.2 498.0,451.2 C496.3,452.2 494.6,453.4 493.2,454.8 C491.7,456.2 490.4,457.8 489.3,459.5 C488.3,461.2 487.5,463.1 486.9,465.0 C486.3,466.9 485.9,468.9 485.5,470.9 C485.2,472.9 484.9,475.0 484.7,477.0 C484.5,479.0 484.4,481.1 484.5,483.1 C484.5,485.1 484.6,487.2 484.9,489.2 C485.1,491.2 485.5,493.2 486.0,495.2 C486.4,497.2 487.0,499.1 487.7,501.0 C488.4,502.9 489.2,504.8 490.1,506.6 C491.1,508.4 492.2,510.1 493.4,511.8 C494.6,513.4 495.8,515.0 497.3,516.4 C498.8,517.7 500.5,519.0 502.3,519.8 C504.1,520.6 506.1,521.0 508.1,521.2 C510.1,521.4 512.2,521.3 514.1,520.9 C516.1,520.5 518.1,519.9 519.8,518.9 C521.6,518.0 523.2,516.8 524.7,515.4 C525.8,514.4 526.7,513.1 527.7,512.0"/>
<path d="M502.0,453.0 C500.5,454.4 498.8,455.7 497.5,457.2 C496.1,458.7 494.7,460.3 493.7,462.1 C492.8,463.9 492.2,465.9 491.7,467.9 C491.2,469.9 491.0,472.0 490.7,474.0 C490.5,476.1 490.3,478.2 490.2,480.2 C490.1,482.3 490.0,484.4 490.2,486.4 C490.3,488.5 490.5,490.6 490.9,492.6 C491.3,494.6 491.9,496.7 492.5,498.6 C493.2,500.6 494.0,502.5 494.9,504.3 C495.9,506.1 497.1,507.8 498.4,509.4 C499.7,511.0 501.2,512.4 502.7,513.9 C503.5,514.6 504.2,515.3 505.0,516.0"/>
<path d="M503.5,458.0 C502.5,459.8 501.4,461.5 500.5,463.3 C499.7,465.2 498.8,467.0 498.3,469.0 C497.7,470.9 497.5,472.9 497.3,474.9 C497.1,477.0 497.0,479.0 497.0,481.0 C497.0,483.1 496.9,485.1 497.0,487.1 C497.1,489.2 497.3,491.2 497.7,493.2 C498.1,495.2 498.7,497.1 499.4,499.0 C500.1,500.9 501.0,502.8 502.1,504.5 C503.2,506.1 504.4,507.8 505.9,509.1 C507.4,510.3 509.3,511.3 511.1,511.9 C513.0,512.6 515.1,512.7 517.1,512.9 C519.1,513.0 521.2,512.9 523.2,512.7 C525.2,512.5 527.2,512.1 529.2,511.7 C531.2,511.3 533.1,510.7 535.1,510.2 C537.1,509.7 539.1,509.2 541.0,508.7 C542.0,508.5 543.0,508.2 544.0,508.0"/>
<path d="M503.0,458.0 L521.0,458.6 L524.5,461.0"/>
<path d="M524.5,468.0 L521.0,470.0 L500.0,471.0 L499.5,497.0 L521.0,497.0 L525.0,493.5 L524.5,468.0"/>
<path d="M521.0,497.0 L527.7,508.0 L540.7,505.0"/>
<path d="M424.0,568.0 C433.2,564.0 441.9,558.2 451.5,556.0 C458.1,554.5 465.2,554.7 472.0,554.0"/>
<path d="M424.0,591.0 C429.3,592.0 434.6,593.5 440.0,594.0 C450.8,595.0 467.7,599.6 472.6,591.0 C473.7,589.1 474.2,586.3 475.0,584.0"/>
<path d="M424.0,601.0 C428.9,600.6 434.0,601.2 438.6,599.7 C441.9,598.7 444.9,596.6 448.0,595.0"/>
<path d="M424.0,612.0 C426.0,612.1 428.0,612.1 430.1,612.2 C432.1,612.2 434.1,612.3 436.1,612.3 C438.1,612.3 440.2,612.3 442.2,612.2 C444.2,612.0 446.2,611.8 448.2,611.4 C450.2,611.0 452.1,610.5 454.1,610.0 C456.0,609.5 457.9,608.8 459.9,608.3 C461.8,607.7 463.8,607.2 465.7,606.7 C467.7,606.2 469.6,605.7 471.6,605.2 C473.6,604.7 475.5,604.1 477.5,603.6 C479.4,603.2 481.4,602.7 483.4,602.2 C485.3,601.8 487.3,601.4 489.3,601.0 C491.3,600.6 493.3,600.3 495.3,600.0 C497.3,599.7 499.3,599.5 501.3,599.2 C503.3,599.0 505.3,598.9 507.3,598.7 C509.4,598.6 511.4,598.5 513.4,598.4 C515.4,598.3 517.4,598.3 519.5,598.2 C521.5,598.2 523.5,598.1 525.5,598.1 C527.5,598.1 529.6,598.1 531.6,598.1 C533.6,598.1 535.6,598.2 537.6,598.2 C539.7,598.2 541.7,598.2 543.7,598.2 C545.7,598.2 547.7,598.3 549.8,598.2 C551.8,598.2 553.8,598.2 555.8,598.2 C557.9,598.2 559.9,598.1 561.9,598.1 C563.9,598.0 565.9,597.9 568.0,597.8 C570.0,597.8 572.0,597.7 574.0,597.6 C576.0,597.5 578.1,597.4 580.1,597.4 C582.1,597.3 584.1,597.2 586.1,597.1 C588.1,597.0 590.2,597.0 592.2,596.9 C594.2,596.8 596.2,596.7 598.2,596.6 C600.3,596.5 602.3,596.4 604.3,596.3 C606.3,596.3 608.3,596.2 610.4,596.1 C612.4,596.0 614.4,595.9 616.4,595.7 C618.4,595.6 620.5,595.5 622.5,595.4 C624.5,595.3 626.5,595.2 628.5,595.1 C630.5,595.0 632.6,594.9 634.6,594.8 C636.6,594.7 638.6,594.5 640.6,594.4 C642.7,594.3 644.7,594.2 646.7,594.0 C648.7,593.9 650.7,593.8 652.7,593.6 C654.8,593.5 656.8,593.4 658.8,593.2 C660.8,593.1 662.8,592.9 664.8,592.8 C666.8,592.6 668.9,592.4 670.9,592.3 C672.9,592.1 674.9,591.9 676.9,591.8 C678.9,591.6 680.9,591.4 683.0,591.2 C685.0,591.1 687.0,590.9 689.0,590.7"/>
<path d="M467.7,607.0 C467.6,609.1 467.6,611.2 467.4,613.3 C467.2,615.3 467.0,617.4 466.4,619.4 C465.8,621.3 465.0,623.3 463.8,624.9 C462.6,626.6 461.1,628.2 459.4,629.2 C457.7,630.1 455.6,630.5 453.6,630.8 C451.5,631.0 449.4,630.7 447.3,630.6 C445.3,630.6 443.2,630.4 441.1,630.2 C439.0,630.1 436.9,629.8 434.9,629.6 C432.8,629.3 430.7,629.0 428.7,628.7 C427.1,628.4 425.6,628.2 424.0,628.0"/>
<path d="M537.5,578 L537.5,565 Q538,557 546,556.5 L567,554"/>
<path d="M556.0,613.0 L569.0,600.0"/>
<path d="M424.0,454.5 L438.0,453.0 L424.0,471.0"/>
</g>
<g stroke-width="4.0">
<path d="M521.0,470.0 L521.0,497.0"/>
<path d="M626.0,580.0 L688.0,584.0"/>
<path d="M606.0,585.5 L617.0,588.0"/>
<path d="M524.5,468.0 L525.0,493.5"/>
</g>
<g stroke-width="6.8">
<path d="M3.0,231.0 L125.0,211.0"/>
<path d="M3.0,347.0 C41.3,340.0 79.7,333.1 118.0,326.0 C127.0,324.3 136.0,322.7 145.0,321.0"/>
<path d="M96.3,214.8 C99.3,213.3 102.4,212.0 105.2,210.2 C108.0,208.5 110.8,206.6 113.2,204.3 C115.4,202.0 117.3,199.2 119.0,196.4 C120.7,193.6 121.8,190.4 123.3,187.4 C124.8,184.4 126.1,181.3 127.9,178.5 C129.7,175.7 131.8,173.1 134.0,170.6 C136.2,168.1 138.7,165.9 141.3,163.8 C143.9,161.6 146.7,159.8 149.4,157.9 C152.2,156.0 155.1,154.3 157.8,152.3 C160.5,150.4 163.1,148.3 165.7,146.2 C168.3,144.1 170.8,141.8 173.3,139.6 C175.8,137.4 178.3,135.2 180.9,133.0 C183.4,130.8 185.9,128.6 188.5,126.4 C191.0,124.2 193.6,122.1 196.2,120.0 C198.8,117.9 201.5,115.9 204.3,114.0 C207.0,112.1 209.8,110.2 212.7,108.6 C215.6,107.1 218.7,105.7 221.8,104.6 C225.0,103.5 228.3,102.7 231.5,102.0 C234.8,101.3 238.1,101.0 241.4,100.5 C244.7,100.0 248.1,99.8 251.4,99.2 C254.6,98.6 257.9,97.7 261.1,96.9 C264.3,96.1 267.5,95.0 270.8,94.3 C274.0,93.5 277.3,93.0 280.6,92.5 C284.0,92.1 287.3,91.8 290.6,91.5 C294.0,91.2 297.3,91.0 300.7,90.9 C304.0,90.8 307.4,90.7 310.7,90.7 C314.1,90.7 317.4,90.8 320.8,90.9 C324.1,91.0 327.4,91.1 330.8,91.5 C334.1,91.8 337.4,92.2 340.7,92.9 C343.9,93.6 347.1,94.6 350.3,95.8 C353.4,96.9 356.4,98.4 359.5,99.8 C362.5,101.2 365.5,102.8 368.5,104.2 C371.5,105.6 374.6,107.0 377.7,108.3 C380.8,109.5 383.9,110.6 387.1,111.6 C390.3,112.6 393.6,113.3 396.8,114.3 C399.9,115.4 403.2,116.4 406.2,117.7 C409.2,119.1 412.2,120.7 415.0,122.5 C417.8,124.2 420.4,126.3 423.0,128.5 C425.5,130.7 427.9,133.0 430.2,135.5 C432.5,137.9 434.7,140.4 436.8,143.0 C438.9,145.6 441.0,148.2 442.8,151.1 C444.5,153.9 446.0,156.9 447.1,160.0 C448.3,163.1 449.1,166.4 449.9,169.6 C450.7,172.8 451.4,176.1 452.1,179.4 C452.7,182.7 453.3,186.0 453.8,189.3 C454.2,192.6 454.5,195.9 454.8,199.3 C455.1,202.6 455.2,206.0 455.3,209.3 C455.4,212.7 455.5,216.0 455.6,219.4 C455.6,222.7 455.7,226.1 455.6,229.4 C455.5,232.8 455.3,236.1 455.0,239.4 C454.7,242.8 454.2,246.1 453.7,249.4 C453.1,252.7 452.4,256.0 451.6,259.2 C450.8,262.5 449.9,265.7 448.9,268.9 C447.8,272.0 446.7,275.2 445.4,278.3 C444.1,281.4 442.8,284.4 441.3,287.4 C439.8,290.4 438.2,293.4 436.6,296.3 C434.9,299.2 433.1,302.0 431.3,304.8 C429.4,307.6 427.5,310.4 425.4,313.0 C423.4,315.6 421.2,318.2 419.0,320.7 C416.7,323.1 414.3,325.5 411.8,327.7 C409.4,330.0 406.7,332.1 404.1,334.1 C401.4,336.1 398.6,337.9 395.8,339.8 C393.0,341.6 390.1,343.3 387.2,344.9 C384.2,346.5 381.2,348.0 378.2,349.5 C375.8,350.7 373.4,351.8 371.0,353.0"/>
<path d="M120.0,326.5 C123.3,327.0 126.7,327.4 129.9,328.1 C133.2,328.8 136.5,329.5 139.6,330.7 C142.7,331.8 145.8,333.3 148.6,335.0 C151.4,336.8 153.9,339.1 156.5,341.1 C159.2,343.1 161.8,345.3 164.6,347.0 C167.4,348.8 170.4,350.4 173.5,351.8 C176.5,353.2 179.6,354.4 182.8,355.4 C186.0,356.4 189.3,357.1 192.6,357.8 C195.9,358.5 199.2,358.9 202.5,359.3 C205.8,359.7 209.2,359.9 212.5,360.1 C215.9,360.4 219.2,360.4 222.6,360.6 C225.9,360.8 229.3,361.0 232.6,361.1 C236.0,361.2 239.4,361.4 242.7,361.4 C246.1,361.4 249.4,361.3 252.8,361.2 C256.1,361.0 259.5,360.8 262.8,360.6 C266.2,360.4 269.5,360.2 272.9,359.9 C276.2,359.7 279.5,359.5 282.9,359.2 C286.2,358.9 289.6,358.5 292.9,358.0 C296.2,357.6 299.5,357.0 302.8,356.6 C306.2,356.1 309.5,355.7 312.8,355.4 C316.2,355.1 319.5,354.8 322.9,354.7 C326.2,354.6 329.6,354.6 332.9,354.7 C336.2,354.9 339.6,355.6 342.9,355.8 C346.2,356.0 349.6,356.2 352.9,356.1 C356.2,355.9 359.5,355.1 362.8,354.7 C366.2,354.3 369.5,353.7 372.8,353.5 C376.1,353.4 379.5,353.4 382.8,353.8 C386.1,354.1 389.4,355.0 392.6,355.8 C395.9,356.6 399.0,357.8 402.2,358.8 C405.4,359.8 408.6,360.8 411.9,361.7 C415.1,362.5 418.4,363.4 421.7,363.9 C424.9,364.4 428.3,364.9 431.6,364.7 C434.9,364.6 438.2,363.9 441.4,363.0 C444.6,362.1 447.7,360.7 450.8,359.4 C453.8,358.0 456.9,356.6 459.7,354.9 C462.5,353.1 465.3,351.1 467.6,348.8 C470.0,346.5 472.4,344.0 473.9,341.1 C475.4,338.3 476.3,335.0 476.7,331.8 C477.1,328.6 476.2,325.2 476.0,321.9 C475.8,318.6 475.3,315.2 475.4,311.9 C475.5,308.6 476.1,305.3 476.6,302.0 C476.8,301.3 476.9,300.7 477.0,300.0"/>
<path d="M439.5,146.5 L476.0,155.0"/>
<path d="M152.0,156.0 C155.1,154.7 158.0,153.2 161.2,152.0 C164.3,150.9 167.5,150.0 170.7,149.3 C174.0,148.6 177.3,148.2 180.6,148.0 C183.9,147.8 187.3,147.9 190.6,148.1 C193.9,148.4 197.2,148.9 200.4,149.7 C203.6,150.5 206.8,151.5 209.9,152.8 C213.0,154.1 216.0,155.6 218.8,157.3 C221.7,158.9 224.5,160.9 227.1,162.9 C229.7,164.9 232.3,167.2 234.7,169.5 C237.1,171.8 239.4,174.2 241.6,176.8 C243.8,179.3 245.9,181.9 247.9,184.6 C249.9,187.3 251.7,190.1 253.5,193.0 C255.3,195.8 257.0,198.7 258.6,201.6 C260.2,204.6 261.8,207.6 263.3,210.6 C264.8,213.6 266.2,216.6 267.6,219.7 C268.9,222.8 270.2,225.9 271.4,229.0 C272.5,232.2 273.6,235.4 274.5,238.6 C275.4,241.8 276.3,245.1 277.0,248.4 C277.6,251.6 278.2,254.9 278.6,258.3 C279.0,261.6 279.3,264.9 279.4,268.3 C279.5,271.6 279.5,275.0 279.3,278.3 C279.1,281.7 278.7,285.0 278.1,288.3 C277.6,291.6 276.9,294.9 276.0,298.1 C275.1,301.3 274.0,304.5 272.7,307.6 C271.4,310.6 270.0,313.7 268.3,316.6 C266.7,319.5 264.9,322.4 263.0,325.1 C261.1,327.8 258.9,330.4 256.7,332.9 C254.5,335.3 252.1,337.7 249.5,339.8 C247.0,342.0 244.3,344.1 241.5,345.9 C238.8,347.7 235.8,349.4 232.9,350.8 C229.9,352.3 226.7,353.5 223.6,354.6 C220.4,355.6 217.2,356.4 213.9,357.1 C210.6,357.8 207.3,358.3 204.0,358.9 C202.7,359.1 201.3,359.3 200.0,359.5"/>
<path d="M188.0,127.0 C191.2,126.2 194.5,125.2 197.7,124.6 C201.0,123.9 204.3,123.3 207.6,123.0 C210.9,122.6 214.2,122.5 217.6,122.6 C220.9,122.7 224.2,123.1 227.5,123.6 C230.8,124.2 234.0,124.9 237.2,125.9 C240.4,126.9 243.5,128.0 246.6,129.4 C249.6,130.7 252.6,132.3 255.4,134.0 C258.3,135.7 261.1,137.6 263.7,139.6 C266.4,141.6 268.9,143.8 271.4,146.0 C273.8,148.3 276.2,150.7 278.5,153.2 C280.7,155.6 282.9,158.2 285.0,160.8 C287.0,163.4 289.0,166.1 290.9,168.9 C292.8,171.7 294.6,174.5 296.3,177.4 C298.1,180.2 299.8,183.1 301.4,186.1 C303.0,189.0 304.6,192.0 306.1,194.9 C307.6,197.9 309.1,201.0 310.5,204.0 C311.8,207.1 313.1,210.2 314.4,213.3 C315.6,216.4 316.7,219.6 317.7,222.8 C318.8,225.9 319.7,229.2 320.6,232.4 C321.4,235.6 322.2,238.9 322.8,242.2 C323.4,245.5 323.9,248.8 324.3,252.1 C324.7,255.4 324.9,258.8 325.0,262.1 C325.0,265.5 324.9,268.8 324.7,272.1 C324.5,275.5 324.1,278.8 323.6,282.1 C323.1,285.4 322.5,288.7 321.7,292.0 C320.9,295.2 320.0,298.4 318.9,301.6 C317.9,304.8 316.7,307.9 315.3,311.0 C314.0,314.0 312.5,317.0 310.9,319.9 C309.2,322.8 307.5,325.7 305.6,328.4 C303.6,331.1 301.6,333.8 299.3,336.2 C297.1,338.6 294.7,341.0 292.1,343.1 C289.5,345.1 286.8,347.0 283.9,348.7 C281.1,350.4 278.1,351.9 275.0,353.2 C271.9,354.5 268.8,355.5 265.6,356.5 C262.4,357.5 259.1,358.2 255.9,359.0 C252.6,359.7 249.3,360.3 246.0,361.0"/>
<path d="M250.0,99.5 C253.3,100.0 256.6,100.3 259.9,100.9 C263.2,101.6 266.4,102.3 269.6,103.3 C272.8,104.3 275.9,105.6 278.9,106.9 C282.0,108.3 285.0,109.8 287.9,111.5 C290.8,113.1 293.6,114.9 296.4,116.8 C299.2,118.7 301.9,120.7 304.5,122.8 C307.1,124.8 309.7,127.0 312.1,129.3 C314.6,131.5 317.0,133.9 319.2,136.4 C321.5,138.9 323.6,141.4 325.7,144.1 C327.7,146.7 329.6,149.5 331.4,152.3 C333.3,155.1 335.0,158.0 336.7,160.9 C338.4,163.8 340.1,166.7 341.7,169.6 C343.3,172.6 344.8,175.6 346.3,178.6 C347.8,181.6 349.2,184.6 350.6,187.7 C351.9,190.8 353.2,193.9 354.4,197.0 C355.6,200.2 356.7,203.3 357.7,206.5 C358.8,209.7 359.7,212.9 360.6,216.2 C361.4,219.4 362.2,222.7 362.9,226.0 C363.5,229.2 364.1,232.6 364.6,235.9 C365.0,239.2 365.3,242.5 365.5,245.9 C365.8,249.2 365.8,252.6 365.8,255.9 C365.8,259.3 365.6,262.6 365.4,266.0 C365.1,269.3 364.8,272.6 364.3,276.0 C363.8,279.3 363.2,282.6 362.5,285.9 C361.8,289.1 361.0,292.4 360.1,295.6 C359.1,298.8 358.1,302.0 356.9,305.2 C355.8,308.3 354.5,311.4 353.1,314.4 C351.7,317.5 350.2,320.5 348.5,323.3 C346.8,326.2 345.0,329.0 342.9,331.6 C340.9,334.2 338.6,336.7 336.2,338.9 C333.8,341.2 331.1,343.3 328.4,345.2 C325.7,347.1 322.8,348.7 319.8,350.3 C316.9,351.8 313.8,353.1 310.7,354.4 C309.5,355.0 308.2,355.5 307.0,356.0"/>
<path d="M305.0,91.0 C308.3,91.8 311.5,92.4 314.8,93.4 C317.9,94.3 321.1,95.4 324.2,96.7 C327.2,98.0 330.2,99.5 333.1,101.2 C336.0,102.9 338.7,104.7 341.3,106.8 C343.9,108.9 346.4,111.2 348.7,113.6 C351.0,116.0 353.1,118.6 355.2,121.2 C357.3,123.8 359.2,126.6 361.2,129.3 C363.1,132.1 364.9,134.9 366.8,137.7 C368.6,140.5 370.4,143.3 372.2,146.2 C374.0,149.0 375.8,151.9 377.5,154.8 C379.2,157.7 380.9,160.6 382.5,163.5 C384.0,166.5 385.5,169.5 386.8,172.6 C388.1,175.7 389.2,178.9 390.3,182.0 C391.3,185.2 392.2,188.5 393.0,191.7 C393.8,195.0 394.5,198.3 395.1,201.6 C395.7,204.9 396.3,208.2 396.8,211.5 C397.3,214.8 397.7,218.2 398.0,221.5 C398.4,224.9 398.6,228.2 398.7,231.6 C398.9,234.9 398.9,238.3 398.7,241.6 C398.6,245.0 398.3,248.3 397.9,251.6 C397.5,255.0 397.0,258.3 396.4,261.6 C395.8,264.9 395.1,268.2 394.3,271.4 C393.5,274.7 392.6,278.0 391.7,281.2 C390.7,284.4 389.7,287.6 388.6,290.8 C387.4,293.9 386.2,297.0 384.8,300.1 C383.4,303.1 381.8,306.1 380.1,308.9 C378.4,311.8 376.5,314.5 374.4,317.2 C372.4,319.8 370.2,322.4 367.9,324.8 C365.6,327.3 363.2,329.6 360.8,331.9 C358.3,334.1 355.7,336.3 353.0,338.3 C350.3,340.3 347.6,342.2 344.7,343.9 C341.9,345.7 338.9,347.2 335.9,348.8 C332.9,350.3 329.9,351.7 326.8,353.1 C326.2,353.4 325.6,353.7 325.0,354.0"/>
<path d="M370.0,105.0 C372.9,106.7 375.8,108.4 378.6,110.2 C381.4,112.0 384.2,113.9 386.7,116.0 C389.2,118.1 391.6,120.5 393.8,122.9 C396.0,125.4 398.0,128.1 399.8,130.9 C401.6,133.7 403.2,136.6 404.7,139.6 C406.2,142.6 407.4,145.7 408.6,148.8 C409.7,152.0 410.7,155.2 411.5,158.4 C412.4,161.7 413.1,165.0 413.8,168.2 C414.4,171.5 415.0,174.8 415.6,178.1 C416.2,181.4 416.8,184.8 417.3,188.1 C417.9,191.4 418.5,194.7 419.0,198.0 C419.5,201.3 420.0,204.6 420.3,208.0 C420.7,211.3 420.9,214.6 421.1,218.0 C421.2,221.3 421.2,224.7 421.1,228.0 C421.0,231.4 420.8,234.7 420.4,238.1 C420.1,241.4 419.6,244.7 419.1,248.0 C418.5,251.3 417.9,254.6 417.1,257.9 C416.3,261.1 415.4,264.4 414.5,267.6 C413.5,270.8 412.4,274.0 411.2,277.1 C410.1,280.3 408.8,283.4 407.5,286.5 C406.2,289.5 404.8,292.6 403.3,295.6 C401.8,298.6 400.3,301.6 398.6,304.5 C396.9,307.4 395.2,310.2 393.2,312.9 C391.3,315.7 389.2,318.3 387.0,320.8 C384.8,323.3 382.5,325.8 380.1,328.1 C377.7,330.4 375.1,332.6 372.5,334.7 C369.9,336.8 367.3,338.8 364.5,340.7 C361.8,342.6 358.9,344.4 356.0,346.1 C353.1,347.8 350.1,349.3 347.1,350.8 C344.1,352.3 341.0,353.6 338.0,355.0"/>
<path d="M425.5,366.7 C427.5,371.0 429.0,375.5 431.4,379.5 C433.8,383.6 436.5,387.8 440.0,391.0 C441.8,392.7 444.0,394.0 446.0,395.5"/>
<path d="M472.0,346.0 L509.0,387.0"/>
<path d="M483.0,437.0 L495.0,450.0"/>
</g>
<g stroke-width="6.2">
<path d="M517.0,396.0 L552.0,436.0"/>
<path d="M524.5,483.7 L537.5,503.0"/>
<path d="M549.0,511.0 L604.0,574.0"/>
<path d="M557.0,443.0 L643.0,538.0"/>
<path d="M641.0,543.5 L655.0,553.0"/>
<path d="M656.0,558.0 L680.0,580.5"/>
<path d="M619.5,596 L640,618 L700,685 Q703.5,689 708,686.5 L732,673.5 Q738.5,669 738.5,658 Q738.5,649 733,643 L695,600 L686.5,591.5"/>
</g>
</g>
<g fill="#000" stroke="none">
<path d="M503.5,468 L508,462.7 L514,468 Z"/>
<path d="M510.7,475.6 L519,475.6 L519,483.7 Z"/>
<path d="M450,406 L458,405.5 L462,410 Z"/>
<path d="M6,286 L30,237 L35,259 L60,254 L69,297 L45,303 L49,324 Z"/>
<path d="M64,254 L73,252 L82,295 L73,297 Z"/>
<path d="M730.5,684.5 L788,682.5 L772,697 L785.5,716 L750.5,745 L734,726 L717.5,740 Z"/>
<path d="M787,719 L793.5,726 L759,754 L753,746 Z"/>
</g>
<ellipse cx="745" cy="576" rx="25" ry="5.2" transform="rotate(-7 745 576)" fill="none" stroke="#000" stroke-width="2.9"/>
<clipPath id="boot"><path d="M96.3,214.8 L107.0,209.5 L114.8,203.7 L119.4,196.3 L127.8,177.8 L140.7,163.9 L160.0,151.0 L178.0,135.5 L200.0,117.0 L216.2,106.5 L232.4,101.6 L246.0,100.0 L255.0,99.0 L262.0,96.5 L269.7,94.3 L290.8,91.4 L313.5,90.7 L330.0,91.3 L343.9,93.3 L357.8,98.9 L371.7,105.8 L385.6,111.4 L399.4,114.9 L413.3,121.0 L427.2,132.2 L438.3,144.7 L445.3,154.4 L450.2,170.8 L454.0,190.0 L455.5,215.0 L455.5,235.0 L450.0,265.7 L435.7,298.0 L414.0,326.0 L389.0,344.0 L371.0,353.0 L371.0,353.5 L350.0,356.5 L332.0,354.5 L307.0,356.0 L285.8,359.0 L265.0,360.4 L244.2,361.5 L223.3,360.6 L202.5,359.4 L181.7,355.2 L160.8,344.8 L148.3,334.4 L140.0,300.0 L120.0,250.0 Z"/></clipPath>
<g clip-path="url(#boot)" fill="none" stroke="#000" stroke-width="2.9" stroke-linecap="round">
<path d="M128.7,156.7 C131.9,156.6 135.2,156.7 138.4,156.4 C141.7,156.0 144.8,155.2 148.0,154.4 C151.2,153.7 154.3,152.6 157.5,151.8 C160.7,151.1 164.0,150.4 167.3,150.1 C170.6,149.7 174.0,149.5 177.3,149.6 C180.6,149.7 183.9,150.0 187.2,150.6 C190.5,151.1 193.7,152.0 196.8,153.0 C200.0,154.1 203.1,155.5 206.0,157.0 C209.0,158.5 211.8,160.3 214.6,162.2 C217.3,164.1 219.9,166.2 222.4,168.4 C224.9,170.6 227.3,173.0 229.6,175.4 C231.9,177.9 234.1,180.4 236.1,183.1 C238.2,185.7 240.1,188.4 242.0,191.2 C243.9,194.0 245.6,196.9 247.3,199.8 C249.0,202.7 250.6,205.7 252.2,208.6 C253.7,211.6 255.2,214.6 256.6,217.7 C258.0,220.7 259.4,223.8 260.6,226.9 C261.8,230.0 263.0,233.2 264.0,236.4 C265.1,239.6 266.0,242.8 266.8,246.1 C267.5,249.3 268.2,252.6 268.7,255.9 C269.3,259.3 269.7,262.6 269.9,265.9 C270.1,269.3 270.2,272.6 270.1,276.0 C270.1,279.3 269.8,282.7 269.4,286.0 C269.0,289.3 268.4,292.6 267.7,295.9 C266.9,299.1 266.0,302.3 264.8,305.5 C263.7,308.6 262.4,311.7 260.9,314.7 C259.4,317.7 257.8,320.6 256.0,323.4 C254.1,326.2 252.2,328.9 250.0,331.5 C247.9,334.1 245.6,336.5 243.2,338.8 C240.8,341.1 238.2,343.3 235.5,345.3 C232.9,347.2 230.0,349.1 227.1,350.7 C224.2,352.3 221.2,353.7 218.1,354.9 C215.0,356.1 211.7,357.0 208.5,357.9 C205.3,358.7 202.0,359.3 198.7,359.9 C196.0,360.4 193.4,360.7 190.7,361.2"/>
<path d="M164.0,127.8 C167.3,127.8 170.6,128.0 173.9,127.8 C177.2,127.7 180.5,127.2 183.8,126.8 C187.1,126.4 190.4,125.6 193.6,125.2 C196.9,124.8 200.3,124.5 203.6,124.4 C206.9,124.3 210.3,124.5 213.5,124.9 C216.8,125.2 220.1,125.8 223.4,126.6 C226.6,127.4 229.8,128.5 232.9,129.7 C236.0,130.9 239.0,132.3 242.0,133.8 C244.9,135.4 247.8,137.2 250.5,139.0 C253.2,140.9 255.9,143.0 258.4,145.2 C260.9,147.3 263.4,149.7 265.7,152.1 C268.0,154.4 270.3,156.9 272.4,159.5 C274.6,162.1 276.6,164.7 278.6,167.4 C280.6,170.1 282.4,172.9 284.2,175.7 C286.0,178.6 287.7,181.5 289.4,184.4 C291.1,187.3 292.7,190.2 294.3,193.2 C295.8,196.1 297.3,199.1 298.8,202.2 C300.2,205.2 301.6,208.3 302.9,211.4 C304.1,214.5 305.3,217.6 306.4,220.8 C307.6,223.9 308.6,227.1 309.5,230.3 C310.4,233.5 311.3,236.8 312.0,240.1 C312.7,243.3 313.3,246.6 313.8,249.9 C314.3,253.2 314.6,256.6 314.8,259.9 C315.0,263.2 315.0,266.6 314.9,269.9 C314.8,273.3 314.6,276.6 314.2,279.9 C313.8,283.3 313.2,286.6 312.6,289.8 C311.9,293.1 311.1,296.4 310.1,299.6 C309.2,302.8 308.1,306.0 306.9,309.1 C305.6,312.2 304.3,315.2 302.8,318.2 C301.2,321.2 299.6,324.1 297.8,326.9 C296.0,329.7 294.0,332.4 291.9,335.0 C289.8,337.5 287.6,340.0 285.1,342.3 C282.7,344.5 280.0,346.6 277.3,348.4 C274.6,350.3 271.6,351.9 268.6,353.3 C265.7,354.8 262.5,356.0 259.4,357.1 C256.2,358.2 253.0,359.0 249.8,359.9 C246.5,360.7 243.2,361.3 239.9,362.0 C238.6,362.3 237.3,362.5 236.0,362.8"/>
<path d="M225.4,100.4 C228.7,100.7 232.1,100.9 235.4,101.2 C238.8,101.5 242.1,101.7 245.4,102.2 C248.7,102.7 252.0,103.3 255.2,104.2 C258.5,105.0 261.6,106.1 264.7,107.3 C267.8,108.5 270.9,110.0 273.8,111.5 C276.8,113.0 279.7,114.8 282.5,116.6 C285.3,118.3 288.1,120.3 290.7,122.3 C293.4,124.3 296.1,126.4 298.6,128.5 C301.1,130.7 303.6,133.0 305.9,135.4 C308.2,137.8 310.5,140.3 312.6,142.9 C314.7,145.5 316.7,148.2 318.6,150.9 C320.5,153.7 322.3,156.5 324.1,159.4 C325.9,162.2 327.5,165.1 329.2,168.1 C330.8,171.0 332.4,173.9 333.9,176.9 C335.4,179.9 336.9,182.9 338.3,186.0 C339.7,189.0 341.1,192.1 342.3,195.2 C343.6,198.3 344.8,201.5 345.9,204.6 C347.0,207.8 348.0,211.0 348.9,214.2 C349.8,217.5 350.7,220.7 351.4,224.0 C352.2,227.2 352.8,230.5 353.4,233.8 C353.9,237.1 354.3,240.5 354.6,243.8 C354.9,247.1 355.1,250.5 355.2,253.8 C355.3,257.2 355.2,260.5 355.0,263.9 C354.9,267.2 354.6,270.6 354.2,273.9 C353.8,277.2 353.3,280.5 352.7,283.8 C352.1,287.1 351.4,290.4 350.5,293.7 C349.7,296.9 348.7,300.1 347.7,303.3 C346.6,306.5 345.4,309.6 344.1,312.7 C342.8,315.8 341.4,318.8 339.8,321.8 C338.3,324.7 336.6,327.6 334.7,330.3 C332.8,333.0 330.7,335.6 328.4,338.0 C326.1,340.4 323.6,342.7 321.0,344.7 C318.4,346.8 315.6,348.6 312.7,350.3 C309.9,351.9 306.8,353.4 303.8,354.7 C301.4,355.9 298.9,356.9 296.4,357.9"/>
<path d="M280.1,92.0 C283.4,92.3 286.8,92.5 290.1,92.9 C293.4,93.3 296.8,93.7 300.0,94.5 C303.3,95.2 306.5,96.1 309.6,97.2 C312.8,98.3 315.8,99.7 318.8,101.2 C321.7,102.7 324.6,104.5 327.3,106.4 C330.0,108.3 332.6,110.5 335.0,112.8 C337.4,115.0 339.6,117.6 341.8,120.1 C344.0,122.6 346.0,125.3 348.0,128.0 C349.9,130.8 351.8,133.5 353.7,136.3 C355.6,139.1 357.4,142.0 359.2,144.8 C361.0,147.6 362.8,150.5 364.6,153.3 C366.3,156.2 368.1,159.1 369.7,162.0 C371.3,164.9 372.9,167.9 374.3,170.9 C375.7,174.0 377.0,177.1 378.1,180.2 C379.2,183.4 380.2,186.6 381.1,189.8 C382.0,193.1 382.7,196.3 383.4,199.6 C384.1,202.9 384.7,206.2 385.3,209.5 C385.8,212.9 386.3,216.2 386.7,219.5 C387.1,222.8 387.4,226.2 387.6,229.5 C387.9,232.9 388.0,236.2 387.9,239.6 C387.9,242.9 387.7,246.3 387.4,249.6 C387.2,253.0 386.7,256.3 386.2,259.6 C385.7,262.9 385.0,266.2 384.3,269.5 C383.6,272.8 382.7,276.0 381.9,279.3 C381.0,282.5 380.0,285.8 379.0,288.9 C377.9,292.1 376.8,295.3 375.5,298.4 C374.2,301.5 372.8,304.5 371.2,307.4 C369.6,310.4 367.8,313.2 365.9,315.9 C364.0,318.7 361.9,321.3 359.7,323.8 C357.5,326.3 355.2,328.8 352.8,331.1 C350.4,333.4 347.9,335.7 345.3,337.8 C342.7,339.9 340.0,341.9 337.2,343.7 C334.4,345.6 331.5,347.3 328.6,348.9 C325.6,350.5 322.6,351.9 319.6,353.4 C317.8,354.3 315.9,355.1 314.1,356.0"/>
<path d="M344.0,106.2 C347.3,106.6 350.6,106.8 353.8,107.6 C357.0,108.3 360.2,109.2 363.2,110.5 C366.2,111.8 369.0,113.5 371.7,115.5 C374.3,117.4 376.8,119.6 379.1,122.0 C381.4,124.4 383.5,127.0 385.5,129.7 C387.4,132.4 389.2,135.2 390.8,138.1 C392.4,141.1 393.8,144.1 395.1,147.2 C396.4,150.3 397.5,153.4 398.4,156.6 C399.4,159.8 400.2,163.1 400.9,166.4 C401.7,169.6 402.2,172.9 402.9,176.2 C403.5,179.6 404.0,182.9 404.6,186.2 C405.2,189.5 405.8,192.8 406.3,196.1 C406.9,199.4 407.4,202.7 407.8,206.1 C408.3,209.4 408.6,212.7 408.9,216.1 C409.1,219.4 409.2,222.8 409.2,226.1 C409.2,229.5 409.0,232.8 408.8,236.2 C408.5,239.5 408.2,242.8 407.7,246.2 C407.2,249.5 406.7,252.8 406.0,256.1 C405.3,259.4 404.5,262.6 403.6,265.8 C402.7,269.1 401.7,272.3 400.6,275.4 C399.5,278.6 398.3,281.8 397.1,284.9 C395.8,288.0 394.5,291.1 393.1,294.1 C391.7,297.1 390.2,300.2 388.6,303.1 C387.0,306.1 385.3,309.0 383.5,311.8 C381.7,314.6 379.7,317.3 377.6,319.9 C375.5,322.5 373.3,325.0 371.0,327.4 C368.6,329.8 366.2,332.1 363.6,334.3 C361.1,336.5 358.5,338.6 355.8,340.5 C353.1,342.5 350.3,344.4 347.5,346.2 C344.6,347.9 341.7,349.6 338.7,351.1 C335.8,352.7 332.7,354.1 329.7,355.5 C328.5,356.1 327.2,356.6 326.0,357.2"/>
</g>
<ellipse cx="450" cy="415" rx="17" ry="3.6" transform="rotate(-3 450 415)" fill="none" stroke="#000" stroke-width="3.2"/>
<text x="779.6" y="772" font-size="35.5" font-weight="bold" stroke="#000" stroke-width="0.3">4</text>
<text x="666" y="807.7" font-size="28.3" stroke="#000" stroke-width="0.7" stroke-linejoin="round">F475R008</text>
</svg>
</body></html>
